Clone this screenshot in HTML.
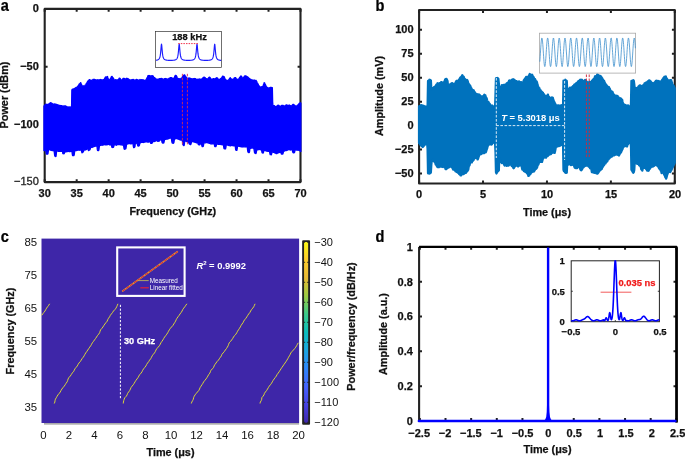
<!DOCTYPE html>
<html><head><meta charset="utf-8"><title>figure</title><style>html,body{margin:0;padding:0;background:#fff}</style></head><body>
<svg width="685" height="459" viewBox="0 0 685 459" style="font-family:'Liberation Sans',sans-serif;display:block;will-change:transform">
<rect width="685" height="459" fill="#fff"/>
<path d="M44.7 182.1v-2.9M44.7 8.9v2.9M76.68 182.1v-2.9M76.68 8.9v2.9M108.65 182.1v-2.9M108.65 8.9v2.9M140.62 182.1v-2.9M140.62 8.9v2.9M172.6 182.1v-2.9M172.6 8.9v2.9M204.57 182.1v-2.9M204.57 8.9v2.9M236.55 182.1v-2.9M236.55 8.9v2.9M268.52 182.1v-2.9M268.52 8.9v2.9M300.5 182.1v-2.9M300.5 8.9v2.9M44.7 8.9h2.9M300.5 8.9h-2.9M44.7 66.63h2.9M300.5 66.63h-2.9M44.7 124.37h2.9M300.5 124.37h-2.9M44.7 182.1h2.9M300.5 182.1h-2.9" stroke="#222" stroke-width="2" fill="none"/>
<rect x="44.7" y="8.9" width="255.8" height="173.2" fill="none" stroke="#222" stroke-width="2.1" stroke-linejoin="round"/>
<path d="M44 105.92 L44.3 105.63 L44.6 105.27 L44.9 105.08 L45.2 104.83 L45.5 104.78 L45.8 104.21 L46.1 104.28 L46.4 104.4 L46.7 104.6 L47 104.68 L47.3 104.5 L47.6 104.5 L47.9 104.39 L48.2 104.64 L48.5 104.29 L48.8 104.26 L49.1 103.8 L49.4 103.35 L49.7 103.3 L50 103.06 L50.3 102.71 L50.6 102.81 L50.9 103.02 L51.2 102.96 L51.5 103.05 L51.8 103.42 L52.1 103.59 L52.4 103.71 L52.7 103.94 L53 104.14 L53.3 104.28 L53.6 104.31 L53.9 104.43 L54.2 104.31 L54.5 103.99 L54.8 103.94 L55.1 104.16 L55.4 104.18 L55.7 104.28 L56 104.23 L56.3 104.48 L56.6 104.58 L56.9 104.65 L57.2 105 L57.5 105.12 L57.8 104.97 L58.1 104.95 L58.4 105.17 L58.7 105.26 L59 105.35 L59.3 105.72 L59.6 105.5 L59.9 105.58 L60.2 105.91 L60.5 105.57 L60.8 105.66 L61.1 105.69 L61.4 105.9 L61.7 105.82 L62 106.14 L62.3 106.19 L62.6 106.02 L62.9 106.41 L63.2 106.32 L63.5 106.38 L63.8 106.07 L64.1 106.18 L64.4 106.12 L64.7 105.89 L65 106.01 L65.3 106.04 L65.6 106.35 L65.9 106.1 L66.2 106.47 L66.5 106.58 L66.8 106.7 L67.1 106.81 L67.4 107.13 L67.7 106.93 L68 106.9 L68.3 107.49 L68.6 107.15 L68.9 107.07 L69.2 106.9 L69.5 107.11 L69.8 107.16 L70.1 107.68 L70.4 107.31 L70.7 107.02 L71 107.38 L71.3 107.68 L71.6 107.95 L71.9 89.69 L72.2 89.47 L72.5 89.12 L72.8 89.34 L73.1 89.28 L73.4 89.2 L73.7 88.95 L74 88.81 L74.3 88.82 L74.6 88.47 L74.9 88.25 L75.2 88.29 L75.5 88.15 L75.8 87.61 L76.1 87.52 L76.4 87.38 L76.7 87.57 L77 87.66 L77.3 87.18 L77.6 86.31 L77.9 86.12 L78.2 86.31 L78.5 85.54 L78.8 84.94 L79.1 84.34 L79.4 83.91 L79.7 83.69 L80 83.64 L80.3 83.22 L80.6 82.7 L80.9 83.2 L81.2 84.1 L81.5 84.56 L81.8 85.34 L82.1 85.63 L82.4 85.65 L82.7 85.92 L83 85.81 L83.3 86.01 L83.6 86.03 L83.9 86.36 L84.2 86.11 L84.5 86.14 L84.8 85.94 L85.1 85.39 L85.4 85.12 L85.7 84.73 L86 84.25 L86.3 83.7 L86.6 83.26 L86.9 82.77 L87.2 82.33 L87.5 81.68 L87.8 81.29 L88.1 80.91 L88.4 80.81 L88.7 80.56 L89 80.08 L89.3 79.59 L89.6 79.7 L89.9 79.91 L90.2 80.2 L90.5 80.54 L90.8 80.28 L91.1 80.26 L91.4 80.37 L91.7 80.46 L92 80.16 L92.3 80.18 L92.6 80 L92.9 79.49 L93.2 79.64 L93.5 79.5 L93.8 79.48 L94.1 79.35 L94.4 79.4 L94.7 79.53 L95 79.59 L95.3 79.91 L95.6 79.98 L95.9 80.06 L96.2 80.05 L96.5 80.08 L96.8 80.07 L97.1 79.98 L97.4 80.06 L97.7 79.83 L98 79.99 L98.3 79.97 L98.6 79.92 L98.9 80 L99.2 79.88 L99.5 79.96 L99.8 79.81 L100.1 79.87 L100.4 79.6 L100.7 79.93 L101 80.05 L101.3 79.9 L101.6 79.99 L101.9 79.7 L102.2 80.07 L102.5 79.98 L102.8 80.16 L103.1 79.99 L103.4 79.64 L103.7 79.68 L104 79.53 L104.3 79.41 L104.6 78.59 L104.9 78.29 L105.2 77.48 L105.5 77.04 L105.8 77.25 L106.1 77.3 L106.4 77 L106.7 77.05 L107 76.93 L107.3 76.61 L107.6 76.87 L107.9 77.93 L108.2 78.87 L108.5 79.28 L108.8 79.93 L109.1 79.92 L109.4 79.99 L109.7 80.06 L110 79.42 L110.3 78.9 L110.6 78.24 L110.9 77.87 L111.2 77.2 L111.5 76.76 L111.8 76.45 L112.1 76.51 L112.4 77.2 L112.7 77.34 L113 77.95 L113.3 78.35 L113.6 78.64 L113.9 79.24 L114.2 79.77 L114.5 79.84 L114.8 79.83 L115.1 80.07 L115.4 79.87 L115.7 79.75 L116 80.06 L116.3 80.02 L116.6 79.88 L116.9 80.06 L117.2 80.19 L117.5 79.86 L117.8 79.82 L118.1 79.81 L118.4 79.47 L118.7 79.14 L119 78.65 L119.3 78.26 L119.6 78.18 L119.9 78.5 L120.2 78.64 L120.5 79.07 L120.8 79.66 L121.1 79.99 L121.4 80.26 L121.7 80.5 L122 79.9 L122.3 79.61 L122.6 79.37 L122.9 78.73 L123.2 78.46 L123.5 78.35 L123.8 78.34 L124.1 78.44 L124.4 78.89 L124.7 78.82 L125 78.93 L125.3 79.23 L125.6 79.06 L125.9 78.84 L126.2 78.77 L126.5 78.47 L126.8 78.26 L127.1 78.57 L127.4 78.63 L127.7 78.68 L128 78.82 L128.3 78.86 L128.6 79.03 L128.9 79.48 L129.2 79.83 L129.5 79.82 L129.8 80.02 L130.1 80.02 L130.4 80.05 L130.7 80.16 L131 80.33 L131.3 79.85 L131.6 80.01 L131.9 79.96 L132.2 79.65 L132.5 79.68 L132.8 79.56 L133.1 79.68 L133.4 79.45 L133.7 79.74 L134 80.09 L134.3 79.96 L134.6 80.25 L134.9 80.23 L135.2 80.3 L135.5 79.98 L135.8 79.97 L136.1 79.97 L136.4 79.38 L136.7 79.82 L137 79.65 L137.3 79.71 L137.6 80.13 L137.9 80.28 L138.2 80.31 L138.5 80.22 L138.8 80.21 L139.1 80.07 L139.4 80.19 L139.7 80.03 L140 79.59 L140.3 80.12 L140.6 80.45 L140.9 80 L141.2 79.97 L141.5 79.69 L141.8 79.76 L142.1 79.84 L142.4 80.1 L142.7 79.82 L143 79.74 L143.3 80.2 L143.6 80.2 L143.9 80.38 L144.2 80.47 L144.5 80.57 L144.8 80.19 L145.1 80.21 L145.4 80.05 L145.7 79.94 L146 79.7 L146.3 79.37 L146.6 78.8 L146.9 77.91 L147.2 77.64 L147.5 76.94 L147.8 76.19 L148.1 75.64 L148.4 75.68 L148.7 75.82 L149 75.52 L149.3 75.91 L149.6 75.82 L149.9 75.97 L150.2 76.28 L150.5 76.33 L150.8 76.06 L151.1 75.65 L151.4 76.11 L151.7 76.14 L152 76.19 L152.3 75.91 L152.6 75.77 L152.9 75.77 L153.2 76.42 L153.5 77.02 L153.8 77.25 L154.1 77.55 L154.4 77.6 L154.7 77.9 L155 78.09 L155.3 78.66 L155.6 78.86 L155.9 79.01 L156.2 78.98 L156.5 79.27 L156.8 79.33 L157.1 79.46 L157.4 79.54 L157.7 79.33 L158 79.12 L158.3 79.22 L158.6 79.34 L158.9 79.15 L159.2 78.95 L159.5 78.69 L159.8 78.6 L160.1 78.92 L160.4 78.66 L160.7 78.69 L161 78.55 L161.3 78.51 L161.6 78.62 L161.9 78.76 L162.2 79 L162.5 78.79 L162.8 79.22 L163.1 79.2 L163.4 79.15 L163.7 79.15 L164 79.18 L164.3 78.99 L164.6 78.72 L164.9 78.61 L165.2 78.65 L165.5 78.57 L165.8 78.59 L166.1 78.72 L166.4 78.9 L166.7 79.21 L167 79.3 L167.3 79.31 L167.6 79.11 L167.9 79.06 L168.2 79.28 L168.5 79.05 L168.8 78.65 L169.1 78.43 L169.4 78.1 L169.7 78.12 L170 77.99 L170.3 77.82 L170.6 77.67 L170.9 77.63 L171.2 77.59 L171.5 77.7 L171.8 78.25 L172.1 77.98 L172.4 78.47 L172.7 78.56 L173 78.46 L173.3 78.42 L173.6 78.38 L173.9 78.31 L174.2 77.76 L174.5 77.44 L174.8 76.54 L175.1 75.81 L175.4 75.38 L175.7 75.38 L176 75.52 L176.3 75.72 L176.6 76.27 L176.9 77.14 L177.2 77.85 L177.5 78.32 L177.8 78.42 L178.1 78.43 L178.4 78.68 L178.7 78.72 L179 78.88 L179.3 78.98 L179.6 78.81 L179.9 78.85 L180.2 79.04 L180.5 78.65 L180.8 78.64 L181.1 78.43 L181.4 78.5 L181.7 78.13 L182 77.83 L182.3 77.45 L182.6 76.5 L182.9 76.39 L183.2 76.1 L183.5 75.64 L183.8 75.13 L184.1 75.14 L184.4 74.88 L184.7 75.07 L185 75.68 L185.3 76.03 L185.6 76.35 L185.9 77.19 L186.2 77.4 L186.5 77.76 L186.8 78.53 L187.1 78.45 L187.4 78.56 L187.7 78.57 L188 78.32 L188.3 78.22 L188.6 78.33 L188.9 78.38 L189.2 78.04 L189.5 78.41 L189.8 78.15 L190.1 78.28 L190.4 78.52 L190.7 78.5 L191 78.85 L191.3 78.85 L191.6 78.98 L191.9 78.63 L192.2 78.94 L192.5 79.02 L192.8 79.07 L193.1 79.17 L193.4 78.83 L193.7 78.65 L194 78.6 L194.3 78.86 L194.6 78.74 L194.9 78.52 L195.2 78.7 L195.5 78.79 L195.8 78.99 L196.1 79.33 L196.4 79.43 L196.7 79.36 L197 79.4 L197.3 79.53 L197.6 79.55 L197.9 79.24 L198.2 79.45 L198.5 79.18 L198.8 79.21 L199.1 79.02 L199.4 79.05 L199.7 79.27 L200 79.32 L200.3 79.66 L200.6 79.19 L200.9 79.18 L201.2 79.11 L201.5 79.12 L201.8 79.11 L202.1 78.8 L202.4 78.43 L202.7 78.13 L203 77.94 L203.3 77.64 L203.6 77.34 L203.9 77.4 L204.2 77.23 L204.5 77.36 L204.8 77.72 L205.1 77.7 L205.4 78.06 L205.7 78.53 L206 78.71 L206.3 78.75 L206.6 78.97 L206.9 79.08 L207.2 78.99 L207.5 79.01 L207.8 78.74 L208.1 78.46 L208.4 78.14 L208.7 77.85 L209 77.59 L209.3 77.25 L209.6 77.12 L209.9 77.44 L210.2 78.03 L210.5 78.43 L210.8 78.97 L211.1 79.38 L211.4 79.19 L211.7 79.28 L212 79.51 L212.3 79.43 L212.6 79.15 L212.9 78.91 L213.2 78.74 L213.5 78.62 L213.8 78.68 L214.1 78.79 L214.4 78.91 L214.7 78.86 L215 79.02 L215.3 78.94 L215.6 78.58 L215.9 78.27 L216.2 78.06 L216.5 78.07 L216.8 77.69 L217.1 78.13 L217.4 78.32 L217.7 78.28 L218 78.89 L218.3 79.43 L218.6 79.65 L218.9 79.81 L219.2 79.78 L219.5 79.65 L219.8 79.31 L220.1 79.69 L220.4 79.24 L220.7 78.49 L221 78.5 L221.3 78.4 L221.6 78.13 L221.9 77.6 L222.2 77.14 L222.5 76.25 L222.8 76.25 L223.1 76.92 L223.4 76.66 L223.7 76.38 L224 76.7 L224.3 77.01 L224.6 77.92 L224.9 78.88 L225.2 79.12 L225.5 79.49 L225.8 79.94 L226.1 79.99 L226.4 80.27 L226.7 80.59 L227 80.41 L227.3 80.35 L227.6 80.7 L227.9 80.55 L228.2 80.27 L228.5 79.94 L228.8 79.7 L229.1 79.28 L229.4 79 L229.7 78.38 L230 78.07 L230.3 77.8 L230.6 78.48 L230.9 78.82 L231.2 78.86 L231.5 79.14 L231.8 79.4 L232.1 79.38 L232.4 79.38 L232.7 79.48 L233 79.19 L233.3 79.23 L233.6 78.92 L233.9 78.67 L234.2 78.07 L234.5 78.06 L234.8 77.82 L235.1 77.67 L235.4 77.66 L235.7 77.86 L236 78.6 L236.3 78.82 L236.6 79.25 L236.9 79.66 L237.2 79.52 L237.5 79.45 L237.8 79.31 L238.1 79.2 L238.4 79.12 L238.7 79.06 L239 78.91 L239.3 78.24 L239.6 77.71 L239.9 77.12 L240.2 77.01 L240.5 76.75 L240.8 76.04 L241.1 76.26 L241.4 76.12 L241.7 76.74 L242 77.78 L242.3 78.37 L242.6 78.24 L242.9 78.36 L243.2 78.23 L243.5 77.86 L243.8 77.48 L244.1 76.95 L244.4 76.31 L244.7 76.04 L245 75.91 L245.3 75.83 L245.6 75.86 L245.9 75.93 L246.2 76.33 L246.5 76.55 L246.8 76.51 L247.1 76.95 L247.4 77.09 L247.7 76.91 L248 77.5 L248.3 77.93 L248.6 78.16 L248.9 78.16 L249.2 78.64 L249.5 78.54 L249.8 78.81 L250.1 79.46 L250.4 79.48 L250.7 79.37 L251 79.55 L251.3 79.74 L251.6 79.91 L251.9 80.18 L252.2 80.18 L252.5 79.95 L252.8 80.28 L253.1 80.32 L253.4 80.24 L253.7 80.57 L254 80.44 L254.3 80.13 L254.6 80.29 L254.9 80.32 L255.2 80.42 L255.5 80.96 L255.8 81.53 L256.1 80.54 L256.4 81.01 L256.7 81.65 L257 82.28 L257.3 82.87 L257.6 83.41 L257.9 84.05 L258.2 84.35 L258.5 85.07 L258.8 85.73 L259.1 86.16 L259.4 86.12 L259.7 86.68 L260 87.24 L260.3 87.44 L260.6 87.4 L260.9 87.23 L261.2 87.11 L261.5 86.83 L261.8 87.15 L262.1 86.97 L262.4 86.63 L262.7 86.28 L263 86.12 L263.3 85.48 L263.6 84.32 L263.9 83.79 L264.2 82.79 L264.5 82.85 L264.8 83.47 L265.1 84.01 L265.4 84.69 L265.7 85.34 L266 86.17 L266.3 86.48 L266.6 86.76 L266.9 87.23 L267.2 87.63 L267.5 87.98 L267.8 87.78 L268.1 87.86 L268.4 88.06 L268.7 88.14 L269 88.24 L269.3 87.99 L269.6 87.78 L269.9 87.81 L270.2 87.55 L270.5 87.79 L270.8 87.46 L271.1 87.34 L271.4 87.56 L271.7 87.72 L272 87.85 L272.3 87.77 L272.6 101.74 L272.9 106.07 L273.2 106.23 L273.5 106.01 L273.8 105.9 L274.1 105.67 L274.4 105.66 L274.7 106.05 L275 106.57 L275.3 106.93 L275.6 106.85 L275.9 106.97 L276.2 106.53 L276.5 106.51 L276.8 106.39 L277.1 105.98 L277.4 105.89 L277.7 105.52 L278 105.16 L278.3 105.57 L278.6 105.62 L278.9 105.55 L279.2 105.9 L279.5 106.35 L279.8 106.21 L280.1 106.18 L280.4 106.39 L280.7 106.17 L281 106.16 L281.3 106.01 L281.6 105.52 L281.9 105.43 L282.2 105.35 L282.5 105.48 L282.8 105.38 L283.1 105.5 L283.4 105.79 L283.7 106.03 L284 105.98 L284.3 106.03 L284.6 106.06 L284.9 106.28 L285.2 106.36 L285.5 105.81 L285.8 105.36 L286.1 105.05 L286.4 105.06 L286.7 104.99 L287 105.32 L287.3 105.12 L287.6 105.44 L287.9 105.62 L288.2 105.9 L288.5 105.78 L288.8 105.23 L289.1 105.03 L289.4 105.35 L289.7 105.62 L290 105.56 L290.3 105.78 L290.6 105.71 L290.9 105.92 L291.2 106.21 L291.5 106.17 L291.8 105.7 L292.1 105.32 L292.4 104.95 L292.7 104.63 L293 104.54 L293.3 104.45 L293.6 104.55 L293.9 104.62 L294.2 105.04 L294.5 105.24 L294.8 105.65 L295.1 106.01 L295.4 105.92 L295.7 105.9 L296 106.02 L296.3 106.23 L296.6 105.88 L296.9 105.9 L297.2 105.74 L297.5 105.2 L297.8 105.28 L298.1 105.17 L298.4 104.65 L298.7 104.22 L299 103.71 L299.3 103.28 L299.6 103.08 L299.9 103.18 L300.2 102.92 L300.5 102.88 L300.8 103.07 L300.8 151.49 L300.5 151.16 L300.2 150.99 L299.9 150.75 L299.6 150.42 L299.3 150.36 L299 150.36 L298.7 150.05 L298.4 150.11 L298.1 150.2 L297.8 149.92 L297.5 149.92 L297.2 150.07 L296.9 149.98 L296.6 149.98 L296.3 149.98 L296 149.76 L295.7 149.65 L295.4 149.77 L295.1 149.98 L294.8 151.09 L294.5 152.29 L294.2 152.69 L293.9 152.83 L293.6 152.84 L293.3 152.68 L293 152.55 L292.7 151.76 L292.4 150.26 L292.1 149.76 L291.8 149.5 L291.5 149.51 L291.2 149.65 L290.9 149.9 L290.6 149.96 L290.3 149.89 L290 149.78 L289.7 149.27 L289.4 149.37 L289.1 149.45 L288.8 149.47 L288.5 149.45 L288.2 149.62 L287.9 149.84 L287.6 149.96 L287.3 150.15 L287 150.27 L286.7 150.38 L286.4 150.45 L286.1 150.44 L285.8 150.38 L285.5 150.46 L285.2 150.58 L284.9 150.73 L284.6 150.92 L284.3 151.13 L284 151.04 L283.7 151.16 L283.4 151.59 L283.1 153 L282.8 153.95 L282.5 154.07 L282.2 154.04 L281.9 153.96 L281.6 154.11 L281.3 153.74 L281 152.53 L280.7 151.97 L280.4 151.95 L280.1 152.22 L279.8 152.39 L279.5 152.3 L279.2 152.39 L278.9 152.57 L278.6 152.34 L278.3 152.73 L278 152.85 L277.7 152.95 L277.4 152.88 L277.1 153.35 L276.8 153.5 L276.5 153.44 L276.2 153.55 L275.9 153.17 L275.6 153.09 L275.3 152.9 L275 152.96 L274.7 152.82 L274.4 152.45 L274.1 152.3 L273.8 152.24 L273.5 152.29 L273.2 152.11 L272.9 152.17 L272.6 151.89 L272.3 151.79 L272 151.81 L271.7 153.37 L271.4 154.71 L271.1 154.8 L270.8 154.59 L270.5 154.57 L270.2 154.55 L269.9 153.34 L269.6 151.66 L269.3 151.24 L269 151.3 L268.7 151.11 L268.4 151.34 L268.1 151.15 L267.8 151.16 L267.5 151.18 L267.2 151.12 L266.9 151.13 L266.6 151.03 L266.3 150.88 L266 150.82 L265.7 150.79 L265.4 150.59 L265.1 150.5 L264.8 150.44 L264.5 150.31 L264.2 150.25 L263.9 150.3 L263.6 151.56 L263.3 152.8 L263 153 L262.7 152.87 L262.4 152.89 L262.1 152.61 L261.8 151.05 L261.5 150.4 L261.2 149.89 L260.9 149.75 L260.6 149.59 L260.3 149.46 L260 149.46 L259.7 149.35 L259.4 149.48 L259.1 149.31 L258.8 149.57 L258.5 149.61 L258.2 149.68 L257.9 149.75 L257.6 149.6 L257.3 149.7 L257 149.65 L256.7 149.92 L256.4 151.59 L256.1 153.05 L255.8 153.51 L255.5 153.44 L255.2 153.26 L254.9 153.08 L254.6 152.71 L254.3 150.81 L254 148.81 L253.7 148.45 L253.4 148.02 L253.1 147.89 L252.8 148.12 L252.5 148 L252.2 147.82 L251.9 147.92 L251.6 147.99 L251.3 148.04 L251 148.2 L250.7 148.26 L250.4 148.03 L250.1 147.99 L249.8 148.86 L249.5 151.69 L249.2 152.58 L248.9 152.61 L248.6 152.36 L248.3 152.27 L248 152 L247.7 150.64 L247.4 147.59 L247.1 146.77 L246.8 146.71 L246.5 146.75 L246.2 146.85 L245.9 146.95 L245.6 146.82 L245.3 146.51 L245 146.62 L244.7 146.83 L244.4 146.86 L244.1 146.85 L243.8 146.79 L243.5 146.72 L243.2 146.71 L242.9 146.79 L242.6 146.93 L242.3 146.81 L242 146.82 L241.7 146.72 L241.4 146.88 L241.1 146.71 L240.8 146.66 L240.5 146.55 L240.2 146.2 L239.9 146.53 L239.6 146.32 L239.3 146.3 L239 146.07 L238.7 146.08 L238.4 146.26 L238.1 146.09 L237.8 146.02 L237.5 145.86 L237.2 148.44 L236.9 150.13 L236.6 150.41 L236.3 150.36 L236 150.22 L235.7 149.68 L235.4 146.93 L235.1 145.65 L234.8 145.76 L234.5 145.89 L234.2 145.65 L233.9 145.67 L233.6 145.8 L233.3 145.67 L233 145.33 L232.7 145.52 L232.4 145.36 L232.1 145.38 L231.8 145.48 L231.5 145.42 L231.2 145.34 L230.9 145.52 L230.6 145.77 L230.3 145.7 L230 145.69 L229.7 145.51 L229.4 145.59 L229.1 145.57 L228.8 145.4 L228.5 145.14 L228.2 145.21 L227.9 144.94 L227.6 144.96 L227.3 145.05 L227 144.81 L226.7 144.71 L226.4 144.74 L226.1 145.54 L225.8 147.56 L225.5 148.89 L225.2 148.9 L224.9 148.75 L224.6 148.59 L224.3 148.69 L224 148.43 L223.7 146.42 L223.4 144.28 L223.1 144.23 L222.8 144.48 L222.5 144.33 L222.2 144.7 L221.9 144.43 L221.6 144.31 L221.3 144.17 L221 144.41 L220.7 144.17 L220.4 144.07 L220.1 144.3 L219.8 144.23 L219.5 144.29 L219.2 144.17 L218.9 144.27 L218.6 144.23 L218.3 144.29 L218 144.19 L217.7 144.17 L217.4 143.95 L217.1 143.8 L216.8 143.83 L216.5 143.94 L216.2 145.84 L215.9 146.61 L215.6 146.67 L215.3 146.58 L215 146.58 L214.7 146.21 L214.4 144.31 L214.1 143.74 L213.8 143.66 L213.5 143.79 L213.2 143.81 L212.9 143.74 L212.6 143.89 L212.3 143.86 L212 143.78 L211.7 143.93 L211.4 143.88 L211.1 143.85 L210.8 143.84 L210.5 143.78 L210.2 143.48 L209.9 143.43 L209.6 143.33 L209.3 143.29 L209 143.2 L208.7 143.05 L208.4 142.86 L208.1 142.73 L207.8 142.8 L207.5 142.62 L207.2 142.51 L206.9 142.44 L206.6 142.48 L206.3 142.51 L206 142.54 L205.7 142.8 L205.4 142.82 L205.1 142.86 L204.8 142.84 L204.5 142.92 L204.2 142.96 L203.9 143.08 L203.6 144.36 L203.3 146.21 L203 146.43 L202.7 146.43 L202.4 146.63 L202.1 146.4 L201.8 145.21 L201.5 143.39 L201.2 143.31 L200.9 142.95 L200.6 142.84 L200.3 143.45 L200 144.54 L199.7 144.9 L199.4 144.74 L199.1 144.74 L198.8 144.66 L198.5 144.58 L198.2 144.11 L197.9 142.8 L197.6 142.6 L197.3 142.71 L197 142.77 L196.7 142.78 L196.4 142.71 L196.1 142.63 L195.8 142.43 L195.5 142.33 L195.2 142.25 L194.9 142.1 L194.6 142.15 L194.3 142.12 L194 141.92 L193.7 141.88 L193.4 141.69 L193.1 141.52 L192.8 141.57 L192.5 141.59 L192.2 141.64 L191.9 141.66 L191.6 141.88 L191.3 142.7 L191 143.9 L190.7 144.48 L190.4 144.55 L190.1 144.44 L189.8 144.12 L189.5 143.88 L189.2 143.71 L188.9 142.98 L188.6 142.06 L188.3 141.76 L188 141.74 L187.7 141.62 L187.4 141.71 L187.1 141.67 L186.8 141.58 L186.5 141.17 L186.2 141 L185.9 141.12 L185.6 141.04 L185.3 141.18 L185 140.92 L184.7 141.06 L184.4 143.32 L184.1 145.4 L183.8 145.54 L183.5 145.22 L183.2 144.93 L182.9 144.43 L182.6 142.05 L182.3 140.18 L182 140.12 L181.7 139.94 L181.4 139.91 L181.1 139.95 L180.8 140.01 L180.5 140.04 L180.2 139.81 L179.9 139.72 L179.6 139.51 L179.3 139.51 L179 139.3 L178.7 139.31 L178.4 139.08 L178.1 139 L177.8 138.69 L177.5 138.65 L177.2 138.69 L176.9 138.55 L176.6 138.54 L176.3 138.26 L176 138.47 L175.7 138.32 L175.4 138.73 L175.1 138.85 L174.8 138.65 L174.5 138.87 L174.2 140.34 L173.9 142.41 L173.6 143.06 L173.3 143.25 L173 143.11 L172.7 143.07 L172.4 143.09 L172.1 142.61 L171.8 141.08 L171.5 138.95 L171.2 138.21 L170.9 137.97 L170.6 138.11 L170.3 138.12 L170 137.94 L169.7 137.98 L169.4 138.22 L169.1 138.28 L168.8 138.61 L168.5 138.66 L168.2 138.77 L167.9 138.82 L167.6 138.98 L167.3 139.06 L167 138.95 L166.7 139 L166.4 139.01 L166.1 139.21 L165.8 139.2 L165.5 139.02 L165.2 139.19 L164.9 139.24 L164.6 139.58 L164.3 140.43 L164 142.08 L163.7 142.91 L163.4 142.96 L163.1 143.04 L162.8 142.9 L162.5 142.97 L162.2 142.52 L161.9 141.3 L161.6 139.7 L161.3 139.35 L161 139.5 L160.7 139.78 L160.4 139.79 L160.1 139.98 L159.8 140.31 L159.5 140.68 L159.2 141.03 L158.9 141.17 L158.6 141.16 L158.3 141.18 L158 141.36 L157.7 141.14 L157.4 140.89 L157.1 140.79 L156.8 140.76 L156.5 140.59 L156.2 140.6 L155.9 140.72 L155.6 140.87 L155.3 140.92 L155 141.34 L154.7 141.18 L154.4 141.11 L154.1 141.45 L153.8 141.48 L153.5 141.5 L153.2 141.4 L152.9 141.47 L152.6 141.3 L152.3 142.64 L152 143.15 L151.7 143 L151.4 143.24 L151.1 143.24 L150.8 143.25 L150.5 142.18 L150.2 141.5 L149.9 141.6 L149.6 141.73 L149.3 141.9 L149 141.95 L148.7 141.66 L148.4 141.69 L148.1 142.04 L147.8 142.13 L147.5 141.86 L147.2 141.9 L146.9 141.65 L146.6 141.5 L146.3 141.7 L146 141.67 L145.7 141.7 L145.4 141.76 L145.1 142.03 L144.8 142.07 L144.5 142.14 L144.2 142.14 L143.9 142.25 L143.6 142.33 L143.3 142.49 L143 142.42 L142.7 142.41 L142.4 142.35 L142.1 142.35 L141.8 142.38 L141.5 142.35 L141.2 142.34 L140.9 142.42 L140.6 142.7 L140.3 142.74 L140 142.92 L139.7 143.53 L139.4 145.13 L139.1 145.73 L138.8 145.96 L138.5 145.99 L138.2 145.9 L137.9 145.88 L137.6 145.08 L137.3 143.86 L137 143.3 L136.7 143.33 L136.4 142.96 L136.1 142.78 L135.8 142.77 L135.5 142.71 L135.2 143.97 L134.9 146.66 L134.6 147.1 L134.3 147.29 L134 147.59 L133.7 147.61 L133.4 146.33 L133.1 143.81 L132.8 143.23 L132.5 143.46 L132.2 143.59 L131.9 143.47 L131.6 143.48 L131.3 143.75 L131 143.76 L130.7 143.79 L130.4 143.75 L130.1 143.47 L129.8 143.5 L129.5 143.55 L129.2 143.49 L128.9 143.37 L128.6 143.56 L128.3 143.64 L128 143.78 L127.7 143.89 L127.4 143.99 L127.1 143.91 L126.8 143.8 L126.5 144.2 L126.2 146.61 L125.9 148.43 L125.6 148.85 L125.3 148.98 L125 148.88 L124.7 149.07 L124.4 149.27 L124.1 148.73 L123.8 146.57 L123.5 144.65 L123.2 144.57 L122.9 144.75 L122.6 145 L122.3 145.02 L122 144.85 L121.7 144.7 L121.4 144.62 L121.1 144.73 L120.8 144.82 L120.5 144.62 L120.2 144.52 L119.9 144.43 L119.6 144.44 L119.3 144.54 L119 144.58 L118.7 144.38 L118.4 144.34 L118.1 144.46 L117.8 144.5 L117.5 144.56 L117.2 144.66 L116.9 144.8 L116.6 144.96 L116.3 145.18 L116 144.94 L115.7 144.84 L115.4 144.89 L115.1 144.78 L114.8 144.75 L114.5 144.45 L114.2 144.45 L113.9 145.48 L113.6 146.82 L113.3 147.18 L113 147.16 L112.7 147.24 L112.4 147.45 L112.1 147.4 L111.8 146.64 L111.5 145.4 L111.2 145.04 L110.9 144.97 L110.6 144.81 L110.3 144.88 L110 144.63 L109.7 144.76 L109.4 144.7 L109.1 144.39 L108.8 144.24 L108.5 144.2 L108.2 144.28 L107.9 144.24 L107.6 144.7 L107.3 144.56 L107 144.57 L106.7 144.73 L106.4 144.75 L106.1 144.78 L105.8 144.8 L105.5 144.84 L105.2 144.43 L104.9 144.64 L104.6 144.49 L104.3 144.67 L104 144.77 L103.7 144.76 L103.4 144.8 L103.1 144.85 L102.8 145.06 L102.5 145.08 L102.2 145.25 L101.9 144.92 L101.6 144.83 L101.3 144.88 L101 145.12 L100.7 145.28 L100.4 145.35 L100.1 145.37 L99.8 145.48 L99.5 145.85 L99.2 147.14 L98.9 149.77 L98.6 150.61 L98.3 150.48 L98 150.6 L97.7 150.46 L97.4 149.68 L97.1 146.85 L96.8 145.81 L96.5 145.94 L96.2 145.7 L95.9 145.96 L95.6 145.92 L95.3 145.99 L95 146.11 L94.7 146.35 L94.4 146.31 L94.1 146.49 L93.8 146.59 L93.5 146.76 L93.2 146.82 L92.9 146.99 L92.6 147.05 L92.3 147.24 L92 147.43 L91.7 147.23 L91.4 147.4 L91.1 147.1 L90.8 147.24 L90.5 147.71 L90.2 149.02 L89.9 149.6 L89.6 149.81 L89.3 150.03 L89 150.18 L88.7 150.52 L88.4 150.26 L88.1 149.5 L87.8 148.64 L87.5 148.49 L87.2 148.69 L86.9 148.97 L86.6 149.16 L86.3 149.45 L86 149.67 L85.7 149.8 L85.4 149.8 L85.1 149.98 L84.8 149.59 L84.5 149.5 L84.2 149.51 L83.9 149.6 L83.6 151.07 L83.3 151.83 L83 152.03 L82.7 152.16 L82.4 152.59 L82.1 152.77 L81.8 152.21 L81.5 150.84 L81.2 149.92 L80.9 150.08 L80.6 150.11 L80.3 150.06 L80 149.98 L79.7 149.88 L79.4 150.15 L79.1 150.2 L78.8 150.04 L78.5 150.06 L78.2 150.03 L77.9 150.1 L77.6 150.15 L77.3 150.24 L77 150.32 L76.7 150.37 L76.4 150.52 L76.1 150.58 L75.8 150.67 L75.5 150.66 L75.2 150.76 L74.9 150.87 L74.6 151.46 L74.3 154.03 L74 155.35 L73.7 155.52 L73.4 155.55 L73.1 155.67 L72.8 155.57 L72.5 155.06 L72.2 153.23 L71.9 150.97 L71.6 150.81 L71.3 150.96 L71 151.2 L70.7 151.27 L70.4 151.51 L70.1 151.46 L69.8 151.37 L69.5 151.58 L69.2 151.59 L68.9 151.43 L68.6 151.18 L68.3 151.16 L68 150.98 L67.7 151.39 L67.4 151.51 L67.1 151.5 L66.8 151.56 L66.5 151.69 L66.2 151.78 L65.9 151.84 L65.6 151.92 L65.3 151.44 L65 151.62 L64.7 151.41 L64.4 152.81 L64.1 153.65 L63.8 153.72 L63.5 153.65 L63.2 153.66 L62.9 153.52 L62.6 151.65 L62.3 151.39 L62 151.21 L61.7 151.21 L61.4 151.24 L61.1 151.18 L60.8 151.24 L60.5 151.16 L60.2 151.26 L59.9 151.2 L59.6 151.42 L59.3 151.39 L59 151.31 L58.7 151.36 L58.4 151.13 L58.1 151.12 L57.8 151.08 L57.5 151.03 L57.2 150.86 L56.9 150.67 L56.6 150.77 L56.3 153.74 L56 156.18 L55.7 156.49 L55.4 156.25 L55.1 156.16 L54.8 156.02 L54.5 153.63 L54.2 151.23 L53.9 150.94 L53.6 150.57 L53.3 150.26 L53 150.6 L52.7 150.6 L52.4 150.52 L52.1 150.5 L51.8 150.39 L51.5 150.28 L51.2 150.07 L50.9 150.29 L50.6 149.84 L50.3 149.62 L50 149.48 L49.7 149.58 L49.4 149.76 L49.1 149.46 L48.8 149.58 L48.5 149.61 L48.2 151.61 L47.9 153.56 L47.6 154.03 L47.3 154.04 L47 153.77 L46.7 154.03 L46.4 153.95 L46.1 152.29 L45.8 150.6 L45.5 150.44 L45.2 150.4 L44.9 150.38 L44.6 150.45 L44.3 150.59 L44 150.6Z" fill="#0000ff" stroke="#0000ff" stroke-width="1.4" stroke-linejoin="round"/>
<path d="M182.4 73.8V145.3M187.4 73.8V145.3" stroke="#d82c50" stroke-width="0.9" stroke-dasharray="2.5 1.5" fill="none"/>
<text x="44.7" y="197.2" font-size="11.0" font-weight="bold" text-anchor="middle" fill="#111"  stroke="#111" stroke-width="0.25">30</text>
<text x="76.68" y="197.2" font-size="11.0" font-weight="bold" text-anchor="middle" fill="#111"  stroke="#111" stroke-width="0.25">35</text>
<text x="108.65" y="197.2" font-size="11.0" font-weight="bold" text-anchor="middle" fill="#111"  stroke="#111" stroke-width="0.25">40</text>
<text x="140.62" y="197.2" font-size="11.0" font-weight="bold" text-anchor="middle" fill="#111"  stroke="#111" stroke-width="0.25">45</text>
<text x="172.6" y="197.2" font-size="11.0" font-weight="bold" text-anchor="middle" fill="#111"  stroke="#111" stroke-width="0.25">50</text>
<text x="204.57" y="197.2" font-size="11.0" font-weight="bold" text-anchor="middle" fill="#111"  stroke="#111" stroke-width="0.25">55</text>
<text x="236.55" y="197.2" font-size="11.0" font-weight="bold" text-anchor="middle" fill="#111"  stroke="#111" stroke-width="0.25">60</text>
<text x="268.52" y="197.2" font-size="11.0" font-weight="bold" text-anchor="middle" fill="#111"  stroke="#111" stroke-width="0.25">65</text>
<text x="300.5" y="197.2" font-size="11.0" font-weight="bold" text-anchor="middle" fill="#111"  stroke="#111" stroke-width="0.25">70</text>
<text x="38.8" y="12.45" font-size="11.0" font-weight="bold" text-anchor="end" fill="#111"  stroke="#111" stroke-width="0.25">0</text>
<text x="38.8" y="70.18" font-size="11.0" font-weight="bold" text-anchor="end" fill="#111"  stroke="#111" stroke-width="0.25">−50</text>
<text x="38.8" y="127.92" font-size="11.0" font-weight="bold" text-anchor="end" fill="#111"  stroke="#111" stroke-width="0.25">−100</text>
<text x="38.8" y="184.7" font-size="11.0" font-weight="normal" text-anchor="end" fill="#2a2a2a" stroke="#2a2a2a" stroke-width="0.35">−150</text>
<text x="172.8" y="214.7" font-size="10.85" font-weight="bold" text-anchor="middle" fill="#111"  stroke="#111" stroke-width="0.25">Frequency (GHz)</text>
<text transform="translate(8.1 95) rotate(-90)" font-size="10.85" font-weight="bold" text-anchor="middle" fill="#111" stroke="#111" stroke-width="0.25">Power (dBm)</text>
<text transform="translate(0.7 11.45) scale(0.9 1)" font-size="16.2" font-weight="bold" fill="#000" stroke="#000" stroke-width="0.25">a</text>
<rect x="155.5" y="31.4" width="66" height="36" fill="#fff" stroke="#333" stroke-width="0.7"/>
<path d="M156 60.28 L156.25 60.24 L156.5 60.2 L156.75 60.15 L157 60.1 L157.25 60.03 L157.5 59.95 L157.75 59.86 L158 59.74 L158.25 59.6 L158.5 59.43 L158.75 59.22 L159 58.95 L159.25 58.6 L159.5 58.13 L159.75 57.5 L160 56.64 L160.25 55.43 L160.5 53.73 L160.75 51.37 L161 48.38 L161.25 45.45 L161.5 44.13 L161.75 45.45 L162 48.38 L162.25 51.36 L162.5 53.72 L162.75 55.42 L163 56.63 L163.25 57.49 L163.5 58.11 L163.75 58.57 L164 58.92 L164.25 59.19 L164.5 59.4 L164.75 59.57 L165 59.7 L165.25 59.82 L165.5 59.91 L165.75 59.98 L166 60.05 L166.25 60.1 L166.5 60.14 L166.75 60.18 L167 60.22 L167.25 60.24 L167.5 60.27 L167.75 60.29 L168 60.31 L168.25 60.32 L168.5 60.34 L168.75 60.35 L169 60.36 L169.25 60.36 L169.5 60.37 L169.75 60.37 L170 60.37 L170.25 60.38 L170.5 60.37 L170.75 60.37 L171 60.37 L171.25 60.36 L171.5 60.36 L171.75 60.35 L172 60.34 L172.25 60.33 L172.5 60.31 L172.75 60.3 L173 60.28 L173.25 60.26 L173.5 60.23 L173.75 60.2 L174 60.16 L174.25 60.12 L174.5 60.08 L174.75 60.02 L175 59.95 L175.25 59.87 L175.5 59.78 L175.75 59.66 L176 59.52 L176.25 59.34 L176.5 59.12 L176.75 58.84 L177 58.47 L177.25 57.98 L177.5 57.31 L177.75 56.39 L178 55.1 L178.25 53.27 L178.5 50.77 L178.75 47.72 L179 44.97 L179.25 44.16 L179.5 45.93 L179.75 48.97 L180 51.86 L180.25 54.08 L180.5 55.67 L180.75 56.79 L181 57.6 L181.25 58.19 L181.5 58.63 L181.75 58.96 L182 59.21 L182.25 59.42 L182.5 59.58 L182.75 59.71 L183 59.81 L183.25 59.9 L183.5 59.98 L183.75 60.04 L184 60.09 L184.25 60.14 L184.5 60.17 L184.75 60.21 L185 60.24 L185.25 60.26 L185.5 60.28 L185.75 60.3 L186 60.31 L186.25 60.33 L186.5 60.34 L186.75 60.35 L187 60.35 L187.25 60.36 L187.5 60.36 L187.75 60.37 L188 60.37 L188.25 60.37 L188.5 60.37 L188.75 60.36 L189 60.36 L189.25 60.35 L189.5 60.34 L189.75 60.34 L190 60.32 L190.25 60.31 L190.5 60.29 L190.75 60.28 L191 60.25 L191.25 60.23 L191.5 60.2 L191.75 60.17 L192 60.13 L192.25 60.08 L192.5 60.03 L192.75 59.96 L193 59.89 L193.25 59.8 L193.5 59.68 L193.75 59.55 L194 59.38 L194.25 59.17 L194.5 58.9 L194.75 58.55 L195 58.08 L195.25 57.46 L195.5 56.6 L195.75 55.39 L196 53.69 L196.25 51.33 L196.5 48.35 L196.75 45.41 L197 44.1 L197.25 45.41 L197.5 48.35 L197.75 51.33 L198 53.69 L198.25 55.39 L198.5 56.6 L198.75 57.46 L199 58.09 L199.25 58.55 L199.5 58.9 L199.75 59.17 L200 59.38 L200.25 59.55 L200.5 59.69 L200.75 59.8 L201 59.89 L201.25 59.97 L201.5 60.03 L201.75 60.09 L202 60.13 L202.25 60.17 L202.5 60.21 L202.75 60.24 L203 60.26 L203.25 60.28 L203.5 60.3 L203.75 60.32 L204 60.33 L204.25 60.34 L204.5 60.35 L204.75 60.36 L205 60.37 L205.25 60.37 L205.5 60.37 L205.75 60.37 L206 60.38 L206.25 60.37 L206.5 60.37 L206.75 60.37 L207 60.36 L207.25 60.35 L207.5 60.34 L207.75 60.33 L208 60.32 L208.25 60.3 L208.5 60.29 L208.75 60.26 L209 60.24 L209.25 60.21 L209.5 60.18 L209.75 60.14 L210 60.09 L210.25 60.03 L210.5 59.97 L210.75 59.89 L211 59.79 L211.25 59.68 L211.5 59.54 L211.75 59.36 L212 59.14 L212.25 58.86 L212.5 58.49 L212.75 58 L213 57.34 L213.25 56.42 L213.5 55.12 L213.75 53.3 L214 50.8 L214.25 47.75 L214.5 45 L214.75 44.19 L215 45.96 L215.25 49.01 L215.5 51.89 L215.75 54.12 L216 55.71 L216.25 56.84 L216.5 57.64 L216.75 58.23 L217 58.67 L217.25 59.01 L217.5 59.27 L217.75 59.47 L218 59.63 L218.25 59.77 L218.5 59.88 L218.75 59.97 L219 60.04 L219.25 60.11 L219.5 60.16 L219.75 60.21 L220 60.25 L220.25 60.29 L220.5 60.32 L220.75 60.35 L221 60.37 L221.25 60.4" fill="none" stroke="#1c1cff" stroke-width="1.15" stroke-linejoin="round"/>
<path d="M178.2 43.6H198" stroke="#f0304a" stroke-width="1" stroke-dasharray="1.5 1.1"/>
<text x="189.5" y="40.3" font-size="9.3" font-weight="bold" text-anchor="middle" fill="#111"  stroke="#111" stroke-width="0.25">188 kHz</text>
<path d="M419.1 183.5v-2.9M419.1 10v2.9M483.02 183.5v-2.9M483.02 10v2.9M546.95 183.5v-2.9M546.95 10v2.9M610.88 183.5v-2.9M610.88 10v2.9M674.8 183.5v-2.9M674.8 10v2.9M419.1 29.8h2.9M674.8 29.8h-2.9M419.1 53.75h2.9M674.8 53.75h-2.9M419.1 77.7h2.9M674.8 77.7h-2.9M419.1 101.65h2.9M674.8 101.65h-2.9M419.1 125.6h2.9M674.8 125.6h-2.9M419.1 149.55h2.9M674.8 149.55h-2.9M419.1 173.5h2.9M674.8 173.5h-2.9" stroke="#222" stroke-width="2" fill="none"/>
<rect x="419.1" y="10" width="255.7" height="173.5" fill="none" stroke="#222" stroke-width="2.1" stroke-linejoin="round"/>
<path d="M419.1 106.36 L419.55 106.19 L420 105.84 L420.45 106.02 L420.9 105.29 L421.35 105.64 L421.8 105.27 L422.25 105.51 L422.7 106.07 L423.15 106.3 L423.6 105.85 L424.05 107.86 L424.5 107.2 L424.95 106.42 L425.4 107.49 L425.85 106.74 L426.3 106.9 L426.75 107.7 L427.2 107.57 L427.65 107.14 L428.1 80.98 L428.55 80.97 L429 80.96 L429.45 79.8 L429.9 79.91 L430.35 80.28 L430.8 80.36 L431.25 88.57 L431.7 89.15 L432.15 88.7 L432.6 89.75 L433.05 88.07 L433.5 87.96 L433.95 87.41 L434.4 86.85 L434.85 86.84 L435.3 86.36 L435.75 85.98 L436.2 85.22 L436.65 84.49 L437.1 84.76 L437.55 83.31 L438 83.65 L438.45 83.74 L438.9 83.88 L439.35 83.29 L439.8 83.13 L440.25 84.29 L440.7 82.93 L441.15 82.14 L441.6 82.26 L442.05 82.93 L442.5 83.54 L442.95 82.99 L443.4 83.32 L443.85 82.29 L444.3 81.67 L444.75 81.02 L445.2 79.58 L445.65 79.29 L446.1 78.87 L446.55 79.08 L447 79.97 L447.45 80.93 L447.9 85.52 L448.35 85.07 L448.8 85.2 L449.25 84.72 L449.7 85.17 L450.15 84.56 L450.6 84.59 L451.05 85.41 L451.5 83.37 L451.95 84 L452.4 83.21 L452.85 84.69 L453.3 85.13 L453.75 85.11 L454.2 84.62 L454.65 83.64 L455.1 84.21 L455.55 82.84 L456 81.86 L456.45 80.94 L456.9 81.38 L457.35 80.91 L457.8 80.87 L458.25 81 L458.7 80.55 L459.15 79.48 L459.6 79.78 L460.05 78.14 L460.5 77.45 L460.95 77.46 L461.4 76.74 L461.85 76.08 L462.3 75.23 L462.75 76.16 L463.2 76.61 L463.65 76.85 L464.1 78.65 L464.55 78.59 L465 79.55 L465.45 80.2 L465.9 80.1 L466.35 81.54 L466.8 79.89 L467.25 80.4 L467.7 81.25 L468.15 83.19 L468.6 83.79 L469.05 84.28 L469.5 85.91 L469.95 85.44 L470.4 86.38 L470.85 87.75 L471.3 88.09 L471.75 89.17 L472.2 90.32 L472.65 90.41 L473.1 90.66 L473.55 90.3 L474 91.42 L474.45 91.99 L474.9 92.56 L475.35 94.37 L475.8 93.78 L476.25 94.19 L476.7 94.08 L477.15 95.15 L477.6 95.32 L478.05 94.63 L478.5 95.22 L478.95 94.57 L479.4 95.12 L479.85 95.08 L480.3 96.69 L480.75 96.89 L481.2 96.89 L481.65 96.39 L482.1 96.56 L482.55 97.22 L483 96.21 L483.45 95.98 L483.9 95.52 L484.35 94.72 L484.8 96.14 L485.25 95.27 L485.7 97.19 L486.15 98.03 L486.6 98.33 L487.05 100.6 L487.5 101.67 L487.95 102.03 L488.4 102.06 L488.85 102.91 L489.3 103.66 L489.75 104.02 L490.2 105.38 L490.65 105.44 L491.1 105.68 L491.55 106.17 L492 105.44 L492.45 105.7 L492.9 106.35 L493.35 106.55 L493.8 107.18 L494.25 107.2 L494.7 106.95 L495.15 107.16 L495.6 92.83 L496.05 78.42 L496.5 78.23 L496.95 78.69 L497.4 78.08 L497.85 78.32 L498.3 78.75 L498.75 83.03 L499.2 87.74 L499.65 87.06 L500.1 88.26 L500.55 87.52 L501 87.18 L501.45 86.64 L501.9 85.19 L502.35 86.97 L502.8 86 L503.25 85.99 L503.7 84.95 L504.15 85.79 L504.6 85.41 L505.05 84.77 L505.5 84.76 L505.95 84.93 L506.4 83.91 L506.85 83.37 L507.3 84.07 L507.75 83.2 L508.2 82.37 L508.65 82.52 L509.1 80.73 L509.55 80.4 L510 80.83 L510.45 80.67 L510.9 80.84 L511.35 80.56 L511.8 79.87 L512.25 79.72 L512.7 79.63 L513.15 79.32 L513.6 79.42 L514.05 79.96 L514.5 80.17 L514.95 80.74 L515.4 80.79 L515.85 81.29 L516.3 82.31 L516.75 81.37 L517.2 82.79 L517.65 84.32 L518.1 82.11 L518.55 83.2 L519 81.36 L519.45 82.13 L519.9 82.77 L520.35 82.98 L520.8 82.21 L521.25 82.27 L521.7 82.34 L522.15 83.32 L522.6 82.69 L523.05 82.4 L523.5 81.43 L523.95 80.24 L524.4 79.59 L524.85 79.11 L525.3 78.21 L525.75 79.35 L526.2 77.05 L526.65 78.5 L527.1 77.44 L527.55 77.37 L528 76.86 L528.45 76.44 L528.9 76.01 L529.35 75.19 L529.8 74.05 L530.25 75.27 L530.7 74.99 L531.15 75.98 L531.6 75.05 L532.05 74.7 L532.5 75.77 L532.95 76.94 L533.4 77.03 L533.85 78.02 L534.3 79.34 L534.75 78.91 L535.2 79.71 L535.65 80.98 L536.1 81.21 L536.55 81.51 L537 82.76 L537.45 84.67 L537.9 85.89 L538.35 86.96 L538.8 87.89 L539.25 88.08 L539.7 89.79 L540.15 90.58 L540.6 90.3 L541.05 91.6 L541.5 91.56 L541.95 92.36 L542.4 92.99 L542.85 92.71 L543.3 94.59 L543.75 94.1 L544.2 94.99 L544.65 95.37 L545.1 96.26 L545.55 96.43 L546 96.36 L546.45 96.99 L546.9 96.31 L547.35 95.78 L547.8 94.67 L548.25 96.22 L548.7 96.82 L549.15 97.1 L549.6 97.49 L550.05 98.37 L550.5 98.7 L550.95 99.08 L551.4 98.59 L551.85 97.58 L552.3 98.04 L552.75 97.67 L553.2 99.81 L553.65 100.9 L554.1 101.58 L554.55 102.81 L555 103.68 L555.45 104.35 L555.9 105.39 L556.35 106.36 L556.8 105.49 L557.25 105.76 L557.7 105.51 L558.15 105.44 L558.6 106.71 L559.05 105.65 L559.5 106 L559.95 105.66 L560.4 105.81 L560.85 105.42 L561.3 105.83 L561.75 105.34 L562.2 106.39 L562.65 107.62 L563.1 107.03 L563.55 80.79 L564 81.64 L564.45 81.09 L564.9 81.26 L565.35 79.82 L565.8 81.09 L566.25 80.65 L566.7 80.79 L567.15 90.46 L567.6 90.94 L568.05 89.76 L568.5 89.76 L568.95 89.09 L569.4 88.62 L569.85 87.85 L570.3 89.48 L570.75 88.63 L571.2 87.9 L571.65 87.42 L572.1 88.26 L572.55 87.78 L573 86.1 L573.45 86.02 L573.9 86.01 L574.35 84.58 L574.8 84.51 L575.25 85.06 L575.7 83.8 L576.15 83.59 L576.6 82.84 L577.05 82.77 L577.5 83.07 L577.95 81.98 L578.4 81.25 L578.85 80.94 L579.3 81.4 L579.75 80.22 L580.2 79.68 L580.65 79.97 L581.1 80.17 L581.55 80.43 L582 79.86 L582.45 81.06 L582.9 81.06 L583.35 81.75 L583.8 80.92 L584.25 82.01 L584.7 81.02 L585.15 80.01 L585.6 81.2 L586.05 80.75 L586.5 81.66 L586.95 81.8 L587.4 82.54 L587.85 82.68 L588.3 82.86 L588.75 82.86 L589.2 81.96 L589.65 82.03 L590.1 82.94 L590.55 82.46 L591 82.68 L591.45 82.05 L591.9 80.85 L592.35 80.51 L592.8 79.93 L593.25 79.43 L593.7 79.01 L594.15 78.6 L594.6 78.11 L595.05 76.45 L595.5 76.27 L595.95 77.05 L596.4 76.59 L596.85 76.04 L597.3 74.51 L597.75 74.68 L598.2 75.31 L598.65 75.32 L599.1 76.76 L599.55 76.08 L600 76.32 L600.45 75.97 L600.9 76.48 L601.35 77.26 L601.8 77.86 L602.25 78.53 L602.7 79.39 L603.15 80.08 L603.6 81.17 L604.05 80.85 L604.5 82.3 L604.95 83.06 L605.4 84.42 L605.85 84.34 L606.3 85.33 L606.75 85.55 L607.2 86.85 L607.65 87.47 L608.1 87.14 L608.55 87.01 L609 87.3 L609.45 88.55 L609.9 89.04 L610.35 90.89 L610.8 90.89 L611.25 92.28 L611.7 92.37 L612.15 91.83 L612.6 92.17 L613.05 94.21 L613.5 94.15 L613.95 94.91 L614.4 95.11 L614.85 95.59 L615.3 96.27 L615.75 96.35 L616.2 95.77 L616.65 96.75 L617.1 96.4 L617.55 96.04 L618 97.29 L618.45 97.26 L618.9 98.23 L619.35 98.12 L619.8 98.95 L620.25 98.38 L620.7 99.55 L621.15 98.87 L621.6 99.94 L622.05 99.66 L622.5 101.76 L622.95 103.21 L623.4 104.34 L623.85 105.23 L624.3 104.56 L624.75 106.09 L625.2 106.36 L625.65 105.28 L626.1 105.63 L626.55 105.88 L627 106.26 L627.45 106.5 L627.9 105.43 L628.35 106.96 L628.8 106.71 L629.25 106.51 L629.7 107.54 L630.15 107.09 L630.6 107.89 L631.05 103.36 L631.5 80.98 L631.95 81.5 L632.4 81.17 L632.85 80.54 L633.3 80.26 L633.75 80.96 L634.2 84.21 L634.65 88.92 L635.1 89.59 L635.55 88.51 L636 88.09 L636.45 88.4 L636.9 88.36 L637.35 89.28 L637.8 88.63 L638.25 87.06 L638.7 86.28 L639.15 86.52 L639.6 85.56 L640.05 85.79 L640.5 85.55 L640.95 86.29 L641.4 87.02 L641.85 86.58 L642.3 86.02 L642.75 86.58 L643.2 85.47 L643.65 84.96 L644.1 85.27 L644.55 83.59 L645 84.25 L645.45 83.12 L645.9 82.9 L646.35 82.57 L646.8 82.55 L647.25 82.13 L647.7 81.76 L648.15 81.17 L648.6 81.04 L649.05 80.4 L649.5 80.33 L649.95 80.99 L650.4 81.29 L650.85 81.85 L651.3 83.05 L651.75 82.86 L652.2 83.62 L652.65 82.9 L653.1 85.24 L653.55 83.49 L654 83.85 L654.45 83.81 L654.9 82.14 L655.35 82.02 L655.8 81.12 L656.25 81.42 L656.7 80.72 L657.15 81.36 L657.6 81.4 L658.05 81.03 L658.5 81.32 L658.95 81.63 L659.4 81.35 L659.85 81.56 L660.3 81.9 L660.75 82.25 L661.2 82.65 L661.65 81.32 L662.1 80.2 L662.55 79.45 L663 79.13 L663.45 78.11 L663.9 77.81 L664.35 76.93 L664.8 76.76 L665.25 76.95 L665.7 76.47 L666.15 77.79 L666.6 78.9 L667.05 78.95 L667.5 79.92 L667.95 80.04 L668.4 80.43 L668.85 80.4 L669.3 80.89 L669.75 81.13 L670.2 80.09 L670.65 80.13 L671.1 80.08 L671.55 81.95 L672 82.72 L672.45 84.12 L672.9 85.13 L673.35 85.59 L673.8 86.09 L674.25 87.59 L674.7 88.21 L674.7 162.8 L674.25 163.69 L673.8 164.78 L673.35 165.32 L672.9 166.79 L672.45 167.23 L672 168.65 L671.55 169.58 L671.1 170.34 L670.65 171.1 L670.2 171.93 L669.75 169.98 L669.3 170.78 L668.85 171.85 L668.4 171.13 L667.95 172.58 L667.5 173.79 L667.05 174.96 L666.6 176.87 L666.15 178.5 L665.7 177.42 L665.25 177.06 L664.8 175.32 L664.35 174.93 L663.9 173.75 L663.45 172.65 L663 172.38 L662.55 172.16 L662.1 172.18 L661.65 172.88 L661.2 170.85 L660.75 170.72 L660.3 169.38 L659.85 169.01 L659.4 168.79 L658.95 167.83 L658.5 166.97 L658.05 166.12 L657.6 165.86 L657.15 165.67 L656.7 164.43 L656.25 164.92 L655.8 164.44 L655.35 164.42 L654.9 164.6 L654.45 165.57 L654 165.92 L653.55 164.7 L653.1 165.87 L652.65 166.58 L652.2 166.59 L651.75 166.22 L651.3 166.24 L650.85 167.36 L650.4 167.41 L649.95 168.45 L649.5 168.97 L649.05 169.46 L648.6 170.71 L648.15 170.39 L647.7 170.67 L647.25 170.54 L646.8 169.39 L646.35 169.28 L645.9 168.09 L645.45 168.12 L645 167.67 L644.55 167.83 L644.1 167.13 L643.65 167.73 L643.2 168.1 L642.75 167.97 L642.3 170.47 L641.85 169.58 L641.4 169.46 L640.95 167.33 L640.5 166.34 L640.05 165.58 L639.6 165.2 L639.15 165.22 L638.7 163.51 L638.25 163.69 L637.8 163.63 L637.35 163.85 L636.9 162.95 L636.45 163.12 L636 163.09 L635.55 162.59 L635.1 161.84 L634.65 161.76 L634.2 170.04 L633.75 171.97 L633.3 172.66 L632.85 172.02 L632.4 171.13 L631.95 170.21 L631.5 169.77 L631.05 146.39 L630.6 142.09 L630.15 142.62 L629.7 141.76 L629.25 142.89 L628.8 143 L628.35 143.23 L627.9 144.4 L627.45 144.02 L627 146.41 L626.55 146.15 L626.1 145.5 L625.65 144.67 L625.2 145.38 L624.75 146.16 L624.3 145.36 L623.85 146.62 L623.4 146.69 L622.95 147.2 L622.5 148.89 L622.05 149.84 L621.6 150.52 L621.15 151.97 L620.7 152.47 L620.25 153.3 L619.8 153.39 L619.35 154.53 L618.9 155.48 L618.45 154.39 L618 154.83 L617.55 154.15 L617.1 154.55 L616.65 153.92 L616.2 153.99 L615.75 154.63 L615.3 153.87 L614.85 154.56 L614.4 154.46 L613.95 155.32 L613.5 154.51 L613.05 154.93 L612.6 155.41 L612.15 156.31 L611.7 156.45 L611.25 155.97 L610.8 156.96 L610.35 157.03 L609.9 157.4 L609.45 158.28 L609 157.41 L608.55 159.32 L608.1 158.72 L607.65 159.5 L607.2 161.37 L606.75 161.48 L606.3 161.93 L605.85 162.48 L605.4 163.37 L604.95 163.47 L604.5 163.91 L604.05 165.08 L603.6 165.11 L603.15 166.15 L602.7 166.84 L602.25 167.21 L601.8 168.78 L601.35 169.37 L600.9 169.47 L600.45 169.93 L600 169.95 L599.55 170.57 L599.1 171.47 L598.65 171.91 L598.2 172.59 L597.75 173.1 L597.3 173.6 L596.85 172.88 L596.4 173.24 L595.95 172.92 L595.5 172.42 L595.05 172.46 L594.6 172.09 L594.15 172.78 L593.7 171.6 L593.25 172.11 L592.8 172.18 L592.35 171.89 L591.9 171.99 L591.45 168.88 L591 168.8 L590.55 167.95 L590.1 168.23 L589.65 166.72 L589.2 166.53 L588.75 166.59 L588.3 165.83 L587.85 164.87 L587.4 165.49 L586.95 165.63 L586.5 164.64 L586.05 165.25 L585.6 165.66 L585.15 164.79 L584.7 166 L584.25 166.43 L583.8 166.58 L583.35 167.26 L582.9 167.43 L582.45 168.08 L582 169.24 L581.55 169.89 L581.1 170.19 L580.65 169.67 L580.2 168.65 L579.75 167.66 L579.3 167.19 L578.85 166.54 L578.4 166.53 L577.95 166.69 L577.5 166.4 L577.05 168.05 L576.6 167.15 L576.15 165.88 L575.7 167.99 L575.25 166.33 L574.8 167.71 L574.35 166.48 L573.9 165.15 L573.45 164.46 L573 164.83 L572.55 164.38 L572.1 164.52 L571.65 163.99 L571.2 165.02 L570.75 165 L570.3 164.39 L569.85 163.52 L569.4 162.94 L568.95 163.13 L568.5 164.23 L568.05 163.09 L567.6 165.1 L567.15 163.37 L566.7 172.61 L566.25 172.7 L565.8 172.84 L565.35 172.54 L564.9 171.85 L564.45 171.23 L564 171.06 L563.55 169.77 L563.1 144.07 L562.65 143.31 L562.2 144.21 L561.75 144.69 L561.3 144.41 L560.85 144.44 L560.4 145.48 L559.95 145.43 L559.5 144.89 L559.05 145.99 L558.6 145.87 L558.15 145.36 L557.7 145.93 L557.25 146.45 L556.8 146.09 L556.35 145.29 L555.9 146.4 L555.45 148.89 L555 151.22 L554.55 152.81 L554.1 151.79 L553.65 151.49 L553.2 152.41 L552.75 151.88 L552.3 152.72 L551.85 152.73 L551.4 152.91 L550.95 154.01 L550.5 152.95 L550.05 154.25 L549.6 154.18 L549.15 154.67 L548.7 154.64 L548.25 155.17 L547.8 155.89 L547.35 155.65 L546.9 156.28 L546.45 156.55 L546 157.65 L545.55 156.59 L545.1 156.78 L544.65 157.28 L544.2 157.58 L543.75 157.43 L543.3 157.92 L542.85 158.59 L542.4 160.18 L541.95 161.86 L541.5 161.46 L541.05 161.82 L540.6 160.71 L540.15 161.07 L539.7 161.89 L539.25 162.13 L538.8 162.96 L538.35 164.33 L537.9 164.81 L537.45 165.39 L537 167.54 L536.55 168.15 L536.1 168.65 L535.65 168.89 L535.2 168.11 L534.75 170.06 L534.3 170.69 L533.85 171.57 L533.4 171.3 L532.95 171.34 L532.5 170.97 L532.05 172.01 L531.6 171.88 L531.15 171.72 L530.7 173.4 L530.25 173.96 L529.8 173.91 L529.35 175.21 L528.9 174.96 L528.45 175.86 L528 173.99 L527.55 173.83 L527.1 173.22 L526.65 171.9 L526.2 171.17 L525.75 172.11 L525.3 171.75 L524.85 171.33 L524.4 170.83 L523.95 171 L523.5 169.14 L523.05 169.74 L522.6 169.68 L522.15 168.67 L521.7 166.06 L521.25 165.01 L520.8 165.43 L520.35 164.71 L519.9 164.29 L519.45 165.53 L519 165.63 L518.55 165.26 L518.1 166.4 L517.65 165.95 L517.2 165.74 L516.75 164.99 L516.3 164.08 L515.85 164.94 L515.4 165.94 L514.95 166.43 L514.5 166.15 L514.05 167.67 L513.6 168.14 L513.15 167.13 L512.7 166.3 L512.25 165.76 L511.8 165.94 L511.35 164.3 L510.9 163.85 L510.45 163.34 L510 164.51 L509.55 163.64 L509.1 164.62 L508.65 165.51 L508.2 164.47 L507.75 165.55 L507.3 165.31 L506.85 165.78 L506.4 165.07 L505.95 165.12 L505.5 165.2 L505.05 165.13 L504.6 165.42 L504.15 164.33 L503.7 162.6 L503.25 162.64 L502.8 161.99 L502.35 162.31 L501.9 162.98 L501.45 162.29 L501 161.5 L500.55 160.56 L500.1 159.63 L499.65 158.8 L499.2 158.67 L498.75 170.37 L498.3 170.72 L497.85 170.48 L497.4 171.69 L496.95 172.32 L496.5 173.39 L496.05 172.31 L495.6 152.34 L495.15 143.07 L494.7 141.9 L494.25 142.51 L493.8 142.1 L493.35 142.62 L492.9 142.8 L492.45 143.15 L492 143.9 L491.55 144.46 L491.1 144.39 L490.65 144.05 L490.2 143.28 L489.75 144.38 L489.3 144.13 L488.85 144.54 L488.4 144.28 L487.95 145.45 L487.5 146.54 L487.05 148.56 L486.6 149.54 L486.15 151.1 L485.7 152.2 L485.25 152.28 L484.8 152.27 L484.35 152.16 L483.9 153.12 L483.45 152.36 L483 153.08 L482.55 152.24 L482.1 152.61 L481.65 153.63 L481.2 153.9 L480.75 152.66 L480.3 153.77 L479.85 154.09 L479.4 154.97 L478.95 155.74 L478.5 156.93 L478.05 158.52 L477.6 159.37 L477.15 157.64 L476.7 157.39 L476.25 157.75 L475.8 156.91 L475.35 157.57 L474.9 157.5 L474.45 158.51 L474 158.55 L473.55 159.95 L473.1 159.54 L472.65 160.91 L472.2 160.66 L471.75 162.39 L471.3 161.78 L470.85 161.93 L470.4 162.55 L469.95 163.11 L469.5 165.34 L469.05 165.42 L468.6 166.85 L468.15 169.71 L467.7 170.43 L467.25 171.14 L466.8 171.41 L466.35 171.54 L465.9 172.77 L465.45 171.44 L465 172.24 L464.55 173.19 L464.1 172.91 L463.65 173.88 L463.2 173.38 L462.75 173.71 L462.3 174.25 L461.85 173.9 L461.4 174.48 L460.95 175.39 L460.5 175.29 L460.05 174.41 L459.6 173.65 L459.15 173.88 L458.7 172.69 L458.25 172.83 L457.8 172.06 L457.35 171.78 L456.9 171.92 L456.45 170.85 L456 170.69 L455.55 171.23 L455.1 170.45 L454.65 169.04 L454.2 169.49 L453.75 169.26 L453.3 169.56 L452.85 168.71 L452.4 167.5 L451.95 167.16 L451.5 166.95 L451.05 165.75 L450.6 166.32 L450.15 166.37 L449.7 165.69 L449.25 167.14 L448.8 166.42 L448.35 167.51 L447.9 167.45 L447.45 168.08 L447 168.14 L446.55 168.6 L446.1 169.13 L445.65 169.01 L445.2 167.64 L444.75 166.71 L444.3 166.38 L443.85 165.71 L443.4 165.9 L442.95 166.93 L442.5 166.73 L442.05 166.69 L441.6 165.68 L441.15 166.56 L440.7 164.51 L440.25 166.42 L439.8 165.97 L439.35 165.73 L438.9 167.06 L438.45 166.68 L438 167.13 L437.55 166.63 L437.1 166.53 L436.65 165.21 L436.2 164.72 L435.75 164.42 L435.3 162.8 L434.85 161.78 L434.4 161.68 L433.95 161.24 L433.5 160.88 L433.05 160.7 L432.6 159.79 L432.15 160.44 L431.7 160.61 L431.25 165 L430.8 172.39 L430.35 173.06 L429.9 173.06 L429.45 173.58 L429 172.64 L428.55 172.34 L428.1 173.12 L427.65 148.71 L427.2 143.58 L426.75 144.12 L426.3 143.7 L425.85 144.06 L425.4 144.1 L424.95 144.55 L424.5 144.57 L424.05 144.73 L423.6 146.05 L423.15 146.41 L422.7 146.93 L422.25 145.73 L421.8 146.11 L421.35 145.67 L420.9 145.21 L420.45 144.75 L420 144.06 L419.55 142.74 L419.1 142.89Z" fill="#0072bd" stroke="#0072bd" stroke-width="2.4" stroke-linejoin="round"/>
<path d="M496.3 78V158M564.6 81V160M496.3 125.6H564.6" stroke="#fff" stroke-width="0.85" stroke-dasharray="2.6 1.5" fill="none"/>
<text x="530.5" y="121.2" font-size="9.4" font-weight="bold" text-anchor="middle" fill="#fff"><tspan font-style="italic">T</tspan> = 5.3018 μs</text>
<path d="M586.4 74.5V157M589.2 74.5V157" stroke="#d2263a" stroke-width="0.95" stroke-dasharray="2.6 1.4" fill="none"/>
<text x="419" y="198.3" font-size="11.0" font-weight="bold" text-anchor="middle" fill="#111"  stroke="#111" stroke-width="0.25">0</text>
<text x="483" y="198.3" font-size="11.0" font-weight="bold" text-anchor="middle" fill="#111"  stroke="#111" stroke-width="0.25">5</text>
<text x="547" y="198.3" font-size="11.0" font-weight="bold" text-anchor="middle" fill="#111"  stroke="#111" stroke-width="0.25">10</text>
<text x="611" y="198.3" font-size="11.0" font-weight="bold" text-anchor="middle" fill="#111"  stroke="#111" stroke-width="0.25">15</text>
<text x="675" y="198.3" font-size="11.0" font-weight="bold" text-anchor="middle" fill="#111"  stroke="#111" stroke-width="0.25">20</text>
<text x="413.6" y="33.35" font-size="11.0" font-weight="bold" text-anchor="end" fill="#111"  stroke="#111" stroke-width="0.25">100</text>
<text x="413.6" y="57.3" font-size="11.0" font-weight="bold" text-anchor="end" fill="#111"  stroke="#111" stroke-width="0.25">75</text>
<text x="413.6" y="81.25" font-size="11.0" font-weight="bold" text-anchor="end" fill="#111"  stroke="#111" stroke-width="0.25">50</text>
<text x="413.6" y="105.2" font-size="11.0" font-weight="bold" text-anchor="end" fill="#111"  stroke="#111" stroke-width="0.25">25</text>
<text x="413.6" y="129.15" font-size="11.0" font-weight="bold" text-anchor="end" fill="#111"  stroke="#111" stroke-width="0.25">0</text>
<text x="413.6" y="153.1" font-size="11.0" font-weight="bold" text-anchor="end" fill="#111"  stroke="#111" stroke-width="0.25">−25</text>
<text x="413.6" y="177.05" font-size="11.0" font-weight="bold" text-anchor="end" fill="#111"  stroke="#111" stroke-width="0.25">−50</text>
<text x="547" y="215.6" font-size="10.85" font-weight="bold" text-anchor="middle" fill="#111"  stroke="#111" stroke-width="0.25">Time (μs)</text>
<text transform="translate(383.3 96) rotate(-90)" font-size="10.85" font-weight="bold" text-anchor="middle" fill="#111" stroke="#111" stroke-width="0.25">Amplitude (mV)</text>
<text transform="translate(375.4 11.4) scale(0.9 1)" font-size="16.2" font-weight="bold" fill="#000" stroke="#000" stroke-width="0.25">b</text>
<rect x="539.4" y="33.2" width="96.2" height="39.9" fill="#fff" stroke="#a8a8a8" stroke-width="0.8"/>
<path d="M539.8 61.69 L540 59.13 L540.2 56.26 L540.4 53.19 L540.6 50.09 L540.8 47.09 L541 44.34 L541.2 41.96 L541.4 40.07 L541.6 38.76 L541.8 38.08 L542 38.08 L542.2 38.76 L542.4 40.07 L542.6 41.96 L542.8 44.34 L543 47.09 L543.2 50.09 L543.4 53.19 L543.6 56.26 L543.8 59.13 L544 61.69 L544.2 63.8 L544.4 65.36 L544.6 66.31 L544.8 66.6 L545 66.21 L545.2 65.16 L545.4 63.51 L545.6 61.33 L545.8 58.72 L546 55.81 L546.2 52.73 L546.4 49.63 L546.6 46.66 L546.8 43.95 L547 41.64 L547.2 39.83 L547.4 38.61 L547.6 38.04 L547.8 38.14 L548 38.91 L548.2 40.32 L548.4 42.29 L548.6 44.73 L548.8 47.53 L549 50.55 L549.2 53.66 L549.4 56.7 L549.6 59.54 L549.8 62.03 L550 64.07 L550.2 65.54 L550.4 66.4 L550.6 66.58 L550.8 66.09 L551 64.95 L551.2 63.22 L551.4 60.96 L551.6 58.3 L551.8 55.35 L552 52.26 L552.2 49.17 L552.4 46.23 L552.6 43.58 L552.8 41.33 L553 39.61 L553.2 38.49 L553.4 38.01 L553.6 38.22 L553.8 39.08 L554 40.58 L554.2 42.62 L554.4 45.13 L554.6 47.97 L554.8 51.02 L555 54.12 L555.2 57.15 L555.4 59.94 L555.6 62.37 L555.8 64.33 L556 65.71 L556.2 66.47 L556.4 66.55 L556.6 65.96 L556.8 64.73 L557 62.91 L557.2 60.59 L557.4 57.87 L557.6 54.89 L557.8 51.79 L558 48.72 L558.2 45.81 L558.4 43.21 L558.6 41.04 L558.8 39.4 L559 38.37 L559.2 38 L559.4 38.3 L559.6 39.27 L559.8 40.85 L560 42.97 L560.2 45.54 L560.4 48.42 L560.6 51.48 L560.8 54.59 L561 57.58 L561.2 60.33 L561.4 62.7 L561.6 64.57 L561.8 65.87 L562 66.52 L562.2 66.51 L562.4 65.82 L562.6 64.49 L562.8 62.59 L563 60.2 L563.2 57.44 L563.4 54.43 L563.6 51.33 L563.8 48.27 L564 45.4 L564.2 42.86 L564.4 40.76 L564.6 39.21 L564.8 38.27 L565 38 L565.2 38.41 L565.4 39.47 L565.6 41.14 L565.8 43.33 L566 45.95 L566.2 48.87 L566.4 51.95 L566.6 55.05 L566.8 58.01 L567 60.71 L567.2 63.01 L567.4 64.81 L567.6 66.01 L567.8 66.56 L568 66.45 L568.2 65.66 L568.4 64.24 L568.6 62.26 L568.8 59.81 L569 57 L569.2 53.97 L569.4 50.86 L569.6 47.82 L569.8 44.99 L570 42.51 L570.2 40.49 L570.4 39.03 L570.6 38.19 L570.8 38.02 L571 38.53 L571.2 39.68 L571.4 41.44 L571.6 43.7 L571.8 46.37 L572 49.32 L572.2 52.42 L572.4 55.5 L572.6 58.44 L572.8 61.08 L573 63.32 L573.2 65.03 L573.4 66.13 L573.6 66.59 L573.8 66.37 L574 65.49 L574.2 63.98 L574.4 61.92 L574.6 59.41 L574.8 56.56 L575 53.51 L575.2 50.4 L575.4 47.38 L575.6 44.6 L575.8 42.17 L576 40.23 L576.2 38.86 L576.4 38.12 L576.6 38.05 L576.8 38.66 L577 39.91 L577.2 41.74 L577.4 44.08 L577.6 46.8 L577.8 49.78 L578 52.88 L578.2 55.96 L578.4 58.86 L578.6 61.45 L578.8 63.61 L579 65.23 L579.2 66.25 L579.4 66.6 L579.6 66.28 L579.8 65.3 L580 63.7 L580.2 61.57 L580.4 59 L580.6 56.11 L580.8 53.04 L581 49.94 L581.2 46.94 L581.4 44.21 L581.6 41.85 L581.8 39.99 L582 38.71 L582.2 38.07 L582.4 38.1 L582.6 38.81 L582.8 40.15 L583 42.07 L583.2 44.46 L583.4 47.23 L583.6 50.24 L583.8 53.35 L584 56.41 L584.2 59.27 L584.4 61.8 L584.6 63.89 L584.8 65.42 L585 66.34 L585.2 66.59 L585.4 66.17 L585.6 65.1 L585.8 63.41 L586 61.21 L586.2 58.58 L586.4 55.66 L586.6 52.57 L586.8 49.48 L587 46.51 L587.2 43.83 L587.4 41.54 L587.6 39.76 L587.8 38.57 L588 38.03 L588.2 38.17 L588.4 38.97 L588.6 40.4 L588.8 42.4 L589 44.86 L589.2 47.67 L589.4 50.71 L589.6 53.82 L589.8 56.85 L590 59.67 L590.2 62.15 L590.4 64.15 L590.6 65.6 L590.8 66.42 L591 66.57 L591.2 66.05 L591.4 64.88 L591.6 63.11 L591.8 60.84 L592 58.16 L592.2 55.2 L592.4 52.11 L592.6 49.02 L592.8 46.09 L593 43.45 L593.2 41.24 L593.4 39.54 L593.6 38.45 L593.8 38.01 L594 38.24 L594.2 39.15 L594.4 40.67 L594.6 42.74 L594.8 45.26 L595 48.12 L595.2 51.17 L595.4 54.28 L595.6 57.29 L595.8 60.07 L596 62.48 L596.2 64.41 L596.4 65.77 L596.6 66.49 L596.8 66.54 L597 65.92 L597.2 64.65 L597.4 62.8 L597.6 60.46 L597.8 57.73 L598 54.74 L598.2 51.64 L598.4 48.57 L598.6 45.67 L598.8 43.09 L599 40.95 L599.2 39.34 L599.4 38.34 L599.6 38 L599.8 38.34 L600 39.34 L600.2 40.95 L600.4 43.09 L600.6 45.67 L600.8 48.57 L601 51.64 L601.2 54.74 L601.4 57.73 L601.6 60.46 L601.8 62.8 L602 64.65 L602.2 65.92 L602.4 66.54 L602.6 66.49 L602.8 65.77 L603 64.41 L603.2 62.48 L603.4 60.07 L603.6 57.29 L603.8 54.28 L604 51.17 L604.2 48.12 L604.4 45.26 L604.6 42.74 L604.8 40.67 L605 39.15 L605.2 38.24 L605.4 38.01 L605.6 38.45 L605.8 39.54 L606 41.24 L606.2 43.45 L606.4 46.09 L606.6 49.02 L606.8 52.11 L607 55.2 L607.2 58.16 L607.4 60.84 L607.6 63.11 L607.8 64.88 L608 66.05 L608.2 66.57 L608.4 66.42 L608.6 65.6 L608.8 64.15 L609 62.15 L609.2 59.67 L609.4 56.85 L609.6 53.82 L609.8 50.71 L610 47.67 L610.2 44.86 L610.4 42.4 L610.6 40.4 L610.8 38.97 L611 38.17 L611.2 38.03 L611.4 38.57 L611.6 39.76 L611.8 41.54 L612 43.83 L612.2 46.51 L612.4 49.48 L612.6 52.57 L612.8 55.66 L613 58.58 L613.2 61.21 L613.4 63.41 L613.6 65.1 L613.8 66.17 L614 66.59 L614.2 66.34 L614.4 65.42 L614.6 63.89 L614.8 61.8 L615 59.27 L615.2 56.41 L615.4 53.35 L615.6 50.24 L615.8 47.23 L616 44.46 L616.2 42.07 L616.4 40.15 L616.6 38.81 L616.8 38.1 L617 38.07 L617.2 38.71 L617.4 39.99 L617.6 41.85 L617.8 44.21 L618 46.94 L618.2 49.94 L618.4 53.04 L618.6 56.11 L618.8 59 L619 61.57 L619.2 63.7 L619.4 65.3 L619.6 66.28 L619.8 66.6 L620 66.25 L620.2 65.23 L620.4 63.61 L620.6 61.45 L620.8 58.86 L621 55.96 L621.2 52.88 L621.4 49.78 L621.6 46.8 L621.8 44.08 L622 41.74 L622.2 39.91 L622.4 38.66 L622.6 38.05 L622.8 38.12 L623 38.86 L623.2 40.23 L623.4 42.17 L623.6 44.6 L623.8 47.38 L624 50.4 L624.2 53.51 L624.4 56.56 L624.6 59.41 L624.8 61.92 L625 63.98 L625.2 65.49 L625.4 66.37 L625.6 66.59 L625.8 66.13 L626 65.03 L626.2 63.32 L626.4 61.08 L626.6 58.44 L626.8 55.5 L627 52.42 L627.2 49.32 L627.4 46.37 L627.6 43.7 L627.8 41.44 L628 39.68 L628.2 38.53 L628.4 38.02 L628.6 38.19 L628.8 39.03 L629 40.49 L629.2 42.51 L629.4 44.99 L629.6 47.82 L629.8 50.86 L630 53.97 L630.2 57 L630.4 59.81 L630.6 62.26 L630.8 64.24 L631 65.66 L631.2 66.45 L631.4 66.56 L631.6 66.01 L631.8 64.81 L632 63.01 L632.2 60.71 L632.4 58.01 L632.6 55.05 L632.8 51.95 L633 48.87 L633.2 45.95 L633.4 43.33 L633.6 41.14 L633.8 39.47 L634 38.41 L634.2 38 L634.4 38.27 L634.6 39.21 L634.8 40.76 L635 42.86 L635.2 45.4 L635.4 48.27" fill="none" stroke="#3d8fcd" stroke-width="0.8" stroke-linejoin="round"/>
<path d="M44 423.9H299.1" stroke="#8e8e8e" stroke-width="1.3"/>
<rect x="41.5" y="238.6" width="257.6" height="184.4" fill="#3e26a8"/>
<path d="M41.77 315.36 L42.71 313.91 L43.81 312.47 L44.99 311.02 L45.75 309.58 L46.62 308.13 L47.64 306.69 L48.76 305.24 L49.61 303.8M54.25 403.5 L54.84 402.06 L55.06 400.61 L55.44 399.17 L56.31 397.72 L57.1 396.28 L57.99 394.83 L59.26 393.39 L60.29 391.94 L61 390.5 L61.87 389.05 L62.97 387.61 L64.19 386.16 L65.2 384.72 L66.06 383.27 L67.15 381.83 L67.7 380.38 L68.12 378.94 L68.95 377.49 L70.3 376.05 L71.25 374.6 L72.05 373.16 L73.54 371.71 L74.25 370.27 L74.95 368.82 L76.11 367.38 L77.31 365.93 L78.04 364.49 L78.92 363.04 L80.26 361.6 L81.18 360.15 L82.04 358.71 L83.19 357.26 L84.15 355.82 L84.88 354.37 L85.74 352.93 L86.81 351.48 L87.77 350.04 L88.72 348.59 L89.74 347.15 L90.78 345.7 L91.58 344.26 L92.35 342.81 L93.5 341.37 L94.51 339.92 L95.6 338.48 L96.55 337.03 L97.46 335.59 L98.69 334.14 L99.64 332.7 L100.06 331.25 L100.61 329.81 L101.87 328.36 L103.01 326.92 L103.89 325.47 L104.88 324.03 L106.01 322.58 L107.21 321.14 L107.73 319.69 L108.52 318.25 L109.62 316.8 L110.3 315.36 L111.42 313.91 L112.57 312.47 L113.49 311.02 L114.9 309.58 L116.01 308.13 L116.72 306.69 L117.37 305.24 L117.93 303.8M123.24 403.5 L123.45 402.06 L123.72 400.61 L124.19 399.17 L124.8 397.72 L126.24 396.28 L127.12 394.83 L127.61 393.39 L128.65 391.94 L129.7 390.5 L130.41 389.05 L131 387.61 L132.06 386.16 L133.29 384.72 L134.21 383.27 L135.02 381.83 L135.94 380.38 L137 378.94 L138.1 377.49 L138.84 376.05 L139.71 374.6 L141.01 373.16 L142.04 371.71 L142.69 370.27 L143.6 368.82 L144.79 367.38 L145.94 365.93 L146.61 364.49 L147.55 363.04 L148.71 361.6 L149.58 360.15 L150.73 358.71 L151.5 357.26 L152.19 355.82 L153.27 354.37 L154.49 352.93 L155.37 351.48 L155.95 350.04 L156.88 348.59 L158.14 347.15 L159.42 345.7 L160.22 344.26 L160.91 342.81 L161.92 341.37 L162.91 339.92 L163.73 338.48 L164.62 337.03 L165.78 335.59 L166.83 334.14 L167.75 332.7 L168.51 331.25 L169.36 329.81 L170.36 328.36 L171.6 326.92 L172.93 325.47 L173.76 324.03 L174.73 322.58 L175.58 321.14 L176.2 319.69 L176.98 318.25 L178.02 316.8 L179.12 315.36 L180.05 313.91 L181.17 312.47 L182.07 311.02 L182.74 309.58 L183.73 308.13 L184.86 306.69 L185.83 305.24 L186.91 303.8M191.31 403.5 L191.79 402.06 L192.61 400.61 L193.32 399.17 L193.61 397.72 L194.21 396.28 L195.11 394.83 L196.29 393.39 L197.47 391.94 L198.77 390.5 L199.54 389.05 L200.1 387.61 L201.03 386.16 L201.97 384.72 L202.92 383.27 L203.68 381.83 L204.87 380.38 L206.04 378.94 L207.03 377.49 L207.88 376.05 L208.66 374.6 L209.81 373.16 L210.39 371.71 L211 370.27 L212.41 368.82 L213.61 367.38 L214.12 365.93 L214.93 364.49 L216.02 363.04 L217.01 361.6 L218.42 360.15 L219.35 358.71 L220.39 357.26 L221.4 355.82 L221.88 354.37 L223.14 352.93 L224.39 351.48 L225.31 350.04 L226.44 348.59 L227.34 347.15 L228.16 345.7 L228.64 344.26 L229.24 342.81 L230.56 341.37 L231.7 339.92 L232.7 338.48 L233.53 337.03 L234.56 335.59 L235.94 334.14 L236.8 332.7 L237.55 331.25 L238.49 329.81 L239.46 328.36 L240.37 326.92 L241.07 325.47 L242.02 324.03 L243.08 322.58 L243.74 321.14 L244.71 319.69 L245.93 318.25 L246.88 316.8 L247.74 315.36 L248.74 313.91 L249.89 312.47 L250.64 311.02 L251.54 309.58 L252.75 308.13 L253.78 306.69 L254.44 305.24 L255.08 303.8M260.02 403.5 L260.32 402.06 L261.23 400.61 L261.75 399.17 L261.78 397.72 L262.99 396.28 L263.99 394.83 L264.43 393.39 L265.44 391.94 L266.62 390.5 L267.51 389.05 L268.35 387.61 L269.24 386.16 L270.44 384.72 L271.53 383.27 L272.32 381.83 L273.16 380.38 L274.16 378.94 L275.26 377.49 L276.33 376.05 L277.05 374.6 L278.13 373.16 L279.18 371.71 L280.09 370.27 L281 368.82 L281.94 367.38 L283.03 365.93 L283.94 364.49 L285 363.04 L286.02 361.6 L286.92 360.15 L287.82 358.71 L288.53 357.26 L289.44 355.82 L290.23 354.37 L290.81 352.93 L292.09 351.48 L293.39 350.04 L294.66 348.59 L295.76 347.15 L296.65 345.7 L297.43 344.26 L298.27 342.81" fill="none" stroke="#e4df30" stroke-width="0.95" stroke-linejoin="round"/>
<path d="M120.4 304.8V399.8" stroke="#fff" stroke-width="1" stroke-dasharray="2.2 1.6"/>
<text x="124" y="343.5" font-size="9.2" font-weight="bold" text-anchor="start" fill="#fff"  stroke="#fff" stroke-width="0.25">30 GHz</text>
<rect x="117.2" y="247.4" width="67.4" height="48.5" fill="#3e26a8" stroke="#fff" stroke-width="2.1"/>
<path d="M122.2 291.4L177.8 251.4" stroke="#dcd62e" stroke-width="1.5"/>
<path d="M122.5 291.2L177.7 251.5" stroke="#e0203a" stroke-width="1.1" stroke-dasharray="4 0.6"/>
<path d="M138.2 280.6H148.7" stroke="#c9c64f" stroke-width="0.8"/>
<path d="M140.3 287.8H148.8" stroke="#e0203a" stroke-width="1.2"/>
<text x="149.8" y="282.5" font-size="6.3" font-weight="normal" text-anchor="start" fill="#fff" >Measured</text>
<text x="149.8" y="290" font-size="6.3" font-weight="normal" text-anchor="start" fill="#fff" >Linear fitted</text>
<text x="196.4" y="269.3" font-size="9.4" font-weight="bold" fill="#fff"><tspan font-style="italic">R</tspan><tspan font-size="6" dy="-4">2</tspan><tspan dy="4"> = 0.9992</tspan></text>
<text x="43.5" y="439.1" font-size="11.4" font-weight="normal" text-anchor="middle" fill="#111" >0</text>
<text x="69" y="439.1" font-size="11.4" font-weight="normal" text-anchor="middle" fill="#111" >2</text>
<text x="94.5" y="439.1" font-size="11.4" font-weight="normal" text-anchor="middle" fill="#111" >4</text>
<text x="120" y="439.1" font-size="11.4" font-weight="normal" text-anchor="middle" fill="#111" >6</text>
<text x="145.5" y="439.1" font-size="11.4" font-weight="normal" text-anchor="middle" fill="#111" >8</text>
<text x="171" y="439.1" font-size="11.4" font-weight="normal" text-anchor="middle" fill="#111" >10</text>
<text x="196.5" y="439.1" font-size="11.4" font-weight="normal" text-anchor="middle" fill="#111" >12</text>
<text x="222" y="439.1" font-size="11.4" font-weight="normal" text-anchor="middle" fill="#111" >14</text>
<text x="247.5" y="439.1" font-size="11.4" font-weight="normal" text-anchor="middle" fill="#111" >16</text>
<text x="273" y="439.1" font-size="11.4" font-weight="normal" text-anchor="middle" fill="#111" >18</text>
<text x="298.5" y="439.1" font-size="11.4" font-weight="normal" text-anchor="middle" fill="#111" >20</text>
<text x="37.1" y="411.2" font-size="11.4" font-weight="normal" text-anchor="end" fill="#111" >35</text>
<text x="37.1" y="378.1" font-size="11.4" font-weight="normal" text-anchor="end" fill="#111" >45</text>
<text x="37.1" y="345" font-size="11.4" font-weight="normal" text-anchor="end" fill="#111" >55</text>
<text x="37.1" y="311.9" font-size="11.4" font-weight="normal" text-anchor="end" fill="#111" >65</text>
<text x="37.1" y="278.8" font-size="11.4" font-weight="normal" text-anchor="end" fill="#111" >75</text>
<text x="37.1" y="245.7" font-size="11.4" font-weight="normal" text-anchor="end" fill="#111" >85</text>
<text x="170.5" y="455.6" font-size="10.85" font-weight="bold" text-anchor="middle" fill="#111"  stroke="#111" stroke-width="0.25">Time (μs)</text>
<text transform="translate(14.2 331) rotate(-90)" font-size="10.85" font-weight="bold" text-anchor="middle" fill="#111" stroke="#111" stroke-width="0.25">Frequency (GHz)</text>
<text transform="translate(0.7 241.6) scale(0.9 1)" font-size="16.2" font-weight="bold" fill="#000" stroke="#000" stroke-width="0.25">c</text>
<defs><linearGradient id="pa" x1="0" y1="1" x2="0" y2="0">
<stop offset="0" stop-color="#3e26a8"/><stop offset="0.1" stop-color="#4640e0"/><stop offset="0.2" stop-color="#4662fc"/>
<stop offset="0.3" stop-color="#2f86fa"/><stop offset="0.4" stop-color="#1ca5e0"/><stop offset="0.5" stop-color="#0bbdbd"/>
<stop offset="0.6" stop-color="#3cca8a"/><stop offset="0.7" stop-color="#9ccc42"/><stop offset="0.8" stop-color="#e8ba34"/>
<stop offset="0.9" stop-color="#fdcd2c"/><stop offset="1" stop-color="#f9fb15"/></linearGradient></defs>
<rect x="303.1" y="241.1" width="6" height="182.7" fill="url(#pa)" stroke="#222" stroke-width="1.9" stroke-linejoin="round"/>
<path d="M303.1 242.3h2M309.1 242.3h-2M303.1 262.3h2M309.1 262.3h-2M303.1 282.3h2M309.1 282.3h-2M303.1 302.3h2M309.1 302.3h-2M303.1 322.3h2M309.1 322.3h-2M303.1 342.3h2M309.1 342.3h-2M303.1 362.3h2M309.1 362.3h-2M303.1 382.3h2M309.1 382.3h-2M303.1 402.3h2M309.1 402.3h-2M303.1 422.3h2M309.1 422.3h-2" stroke="#222" stroke-width="0.9"/>
<text x="314.3" y="246.3" font-size="11.0" font-weight="normal" text-anchor="start" fill="#111" >−30</text>
<text x="314.3" y="266.3" font-size="11.0" font-weight="normal" text-anchor="start" fill="#111" >−40</text>
<text x="314.3" y="286.3" font-size="11.0" font-weight="normal" text-anchor="start" fill="#111" >−50</text>
<text x="314.3" y="306.3" font-size="11.0" font-weight="normal" text-anchor="start" fill="#111" >−60</text>
<text x="314.3" y="326.3" font-size="11.0" font-weight="normal" text-anchor="start" fill="#111" >−70</text>
<text x="314.3" y="346.3" font-size="11.0" font-weight="normal" text-anchor="start" fill="#111" >−80</text>
<text x="314.3" y="366.3" font-size="11.0" font-weight="normal" text-anchor="start" fill="#111" >−90</text>
<text x="314.3" y="386.3" font-size="11.0" font-weight="normal" text-anchor="start" fill="#111" >−100</text>
<text x="314.3" y="406.3" font-size="11.0" font-weight="normal" text-anchor="start" fill="#111" >−110</text>
<text x="314.3" y="426.3" font-size="11.0" font-weight="normal" text-anchor="start" fill="#111" >−120</text>
<path d="M419.85 421v-2.9M419.85 246.9v2.9M445.5 421v-2.9M445.5 246.9v2.9M471.15 421v-2.9M471.15 246.9v2.9M496.8 421v-2.9M496.8 246.9v2.9M522.45 421v-2.9M522.45 246.9v2.9M548.1 421v-2.9M548.1 246.9v2.9M573.75 421v-2.9M573.75 246.9v2.9M599.4 421v-2.9M599.4 246.9v2.9M625.05 421v-2.9M625.05 246.9v2.9M650.7 421v-2.9M650.7 246.9v2.9M676.35 421v-2.9M676.35 246.9v2.9M419.1 421h2.9M676.4 421h-2.9M419.1 386.18h2.9M676.4 386.18h-2.9M419.1 351.36h2.9M676.4 351.36h-2.9M419.1 316.54h2.9M676.4 316.54h-2.9M419.1 281.72h2.9M676.4 281.72h-2.9M419.1 246.9h2.9M676.4 246.9h-2.9" stroke="#222" stroke-width="2" fill="none"/>
<path d="M419.1 422V246.9" stroke="#222" stroke-width="2.1" fill="none"/>
<path d="M419.1 246.9H676.4V422.4" stroke="#000" stroke-width="2.3" fill="none" stroke-linejoin="round"/>
<path d="M676.6999999999999 247.4V422.4" stroke="#000" stroke-width="2.2" fill="none"/>
<path d="M418.90000000000003 421H675.4" stroke="#0000ff" stroke-width="2.6" stroke-linecap="round"/>
<path d="M543.4 421 L545.2 419.5 L546.2 417 L546.7 412 L546.9 405 L546.9 247.6 H549.3 L549.3 405 L549.5 412 L550 417 L551 419.5 L552.8 421Z" fill="#0000ff"/>
<text x="419.15" y="436.6" font-size="11.0" font-weight="bold" text-anchor="middle" fill="#111"  stroke="#111" stroke-width="0.25">−2.5</text>
<text x="445" y="436.6" font-size="11.0" font-weight="bold" text-anchor="middle" fill="#111"  stroke="#111" stroke-width="0.25">−2</text>
<text x="470.85" y="436.6" font-size="11.0" font-weight="bold" text-anchor="middle" fill="#111"  stroke="#111" stroke-width="0.25">−1.5</text>
<text x="496.7" y="436.6" font-size="11.0" font-weight="bold" text-anchor="middle" fill="#111"  stroke="#111" stroke-width="0.25">−1</text>
<text x="522.55" y="436.6" font-size="11.0" font-weight="bold" text-anchor="middle" fill="#111"  stroke="#111" stroke-width="0.25">−0.5</text>
<text x="548.4" y="436.6" font-size="11.0" font-weight="bold" text-anchor="middle" fill="#111"  stroke="#111" stroke-width="0.25">0</text>
<text x="574.25" y="436.6" font-size="11.0" font-weight="bold" text-anchor="middle" fill="#111"  stroke="#111" stroke-width="0.25">0.5</text>
<text x="600.1" y="436.6" font-size="11.0" font-weight="bold" text-anchor="middle" fill="#111"  stroke="#111" stroke-width="0.25">1</text>
<text x="625.95" y="436.6" font-size="11.0" font-weight="bold" text-anchor="middle" fill="#111"  stroke="#111" stroke-width="0.25">1.5</text>
<text x="651.8" y="436.6" font-size="11.0" font-weight="bold" text-anchor="middle" fill="#111"  stroke="#111" stroke-width="0.25">2</text>
<text x="677.65" y="436.6" font-size="11.0" font-weight="bold" text-anchor="middle" fill="#111"  stroke="#111" stroke-width="0.25">2.5</text>
<text x="412.9" y="424.95" font-size="11.0" font-weight="bold" text-anchor="end" fill="#111"  stroke="#111" stroke-width="0.25">0</text>
<text x="412.9" y="390.13" font-size="11.0" font-weight="bold" text-anchor="end" fill="#111"  stroke="#111" stroke-width="0.25">0.2</text>
<text x="412.9" y="355.31" font-size="11.0" font-weight="bold" text-anchor="end" fill="#111"  stroke="#111" stroke-width="0.25">0.4</text>
<text x="412.9" y="320.49" font-size="11.0" font-weight="bold" text-anchor="end" fill="#111"  stroke="#111" stroke-width="0.25">0.6</text>
<text x="412.9" y="285.67" font-size="11.0" font-weight="bold" text-anchor="end" fill="#111"  stroke="#111" stroke-width="0.25">0.8</text>
<text x="412.9" y="250.85" font-size="11.0" font-weight="bold" text-anchor="end" fill="#111"  stroke="#111" stroke-width="0.25">1</text>
<text x="547.5" y="452.6" font-size="10.85" font-weight="bold" text-anchor="middle" fill="#111"  stroke="#111" stroke-width="0.25">Time (μs)</text>
<text transform="translate(387.4 334) rotate(-90)" font-size="10.85" font-weight="bold" text-anchor="middle" fill="#111" stroke="#111" stroke-width="0.25">Amplitude (a.u.)</text>
<text transform="translate(354.5 326.5) rotate(-90)" font-size="10.85" font-weight="bold" text-anchor="middle" fill="#111" stroke="#111" stroke-width="0.25">Power/frequency (dB/Hz)</text>
<text transform="translate(375.4 241.6) scale(0.9 1)" font-size="16.2" font-weight="bold" fill="#000" stroke="#000" stroke-width="0.25">d</text>
<rect x="571.2" y="260.8" width="88.2" height="60.9" fill="#fff" stroke="#222" stroke-width="1"/>
<path d="M571.2 291.25h1.6M659.4 291.25h-1.6M615.3 260.8v1.6M615.3 321.7v-1.6" stroke="#222" stroke-width="0.9"/>
<path d="M600.6 292.2H631.4" stroke="#f25a5a" stroke-width="1"/>
<path d="M571.2 320.46 L571.38 320.53 L571.55 320.6 L571.73 320.66 L571.91 320.71 L572.08 320.76 L572.26 320.79 L572.44 320.81 L572.61 320.82 L572.79 320.81 L572.97 320.79 L573.14 320.77 L573.32 320.73 L573.5 320.67 L573.67 320.62 L573.85 320.55 L574.03 320.48 L574.2 320.4 L574.38 320.33 L574.56 320.25 L574.74 320.17 L574.91 320.1 L575.09 320.04 L575.27 319.98 L575.44 319.93 L575.62 319.89 L575.8 319.87 L575.97 319.85 L576.15 319.85 L576.33 319.86 L576.5 319.88 L576.68 319.91 L576.86 319.96 L577.03 320.01 L577.21 320.07 L577.39 320.14 L577.56 320.22 L577.74 320.29 L577.92 320.37 L578.09 320.45 L578.27 320.52 L578.45 320.59 L578.62 320.65 L578.8 320.71 L578.98 320.75 L579.15 320.78 L579.33 320.8 L579.51 320.81 L579.68 320.81 L579.86 320.8 L580.04 320.77 L580.21 320.73 L580.39 320.68 L580.57 320.62 L580.74 320.55 L580.92 320.48 L581.1 320.4 L581.27 320.32 L581.45 320.23 L581.63 320.14 L581.81 320.06 L581.98 319.97 L582.16 319.89 L582.34 319.81 L582.51 319.73 L582.69 319.66 L582.87 319.59 L583.04 319.52 L583.22 319.45 L583.4 319.38 L583.57 319.31 L583.75 319.24 L583.93 319.15 L584.1 319.06 L584.28 318.96 L584.46 318.85 L584.63 318.73 L584.81 318.6 L584.99 318.46 L585.16 318.3 L585.34 318.14 L585.52 317.96 L585.69 317.79 L585.87 317.61 L586.05 317.43 L586.22 317.26 L586.4 317.11 L586.58 316.96 L586.75 316.83 L586.93 316.72 L587.11 316.64 L587.28 316.58 L587.46 316.55 L587.64 316.55 L587.81 316.57 L587.99 316.63 L588.17 316.71 L588.35 316.81 L588.52 316.93 L588.7 317.08 L588.88 317.24 L589.05 317.41 L589.23 317.59 L589.41 317.78 L589.58 317.98 L589.76 318.18 L589.94 318.38 L590.11 318.57 L590.29 318.77 L590.47 318.96 L590.64 319.14 L590.82 319.32 L591 319.49 L591.17 319.66 L591.35 319.81 L591.53 319.96 L591.7 320.1 L591.88 320.22 L592.06 320.34 L592.23 320.44 L592.41 320.54 L592.59 320.61 L592.76 320.68 L592.94 320.73 L593.12 320.77 L593.29 320.79 L593.47 320.8 L593.65 320.79 L593.82 320.77 L594 320.74 L594.18 320.7 L594.35 320.65 L594.53 320.59 L594.71 320.52 L594.88 320.45 L595.06 320.37 L595.24 320.29 L595.42 320.22 L595.59 320.14 L595.77 320.07 L595.95 320.01 L596.12 319.96 L596.3 319.91 L596.48 319.88 L596.65 319.86 L596.83 319.85 L597.01 319.85 L597.18 319.87 L597.36 319.89 L597.54 319.93 L597.71 319.98 L597.89 320.04 L598.07 320.1 L598.24 320.17 L598.42 320.25 L598.6 320.33 L598.77 320.4 L598.95 320.48 L599.13 320.55 L599.3 320.62 L599.48 320.68 L599.66 320.73 L599.83 320.77 L600.01 320.79 L600.19 320.81 L600.36 320.82 L600.54 320.81 L600.72 320.79 L600.89 320.76 L601.07 320.71 L601.25 320.66 L601.42 320.6 L601.6 320.53 L601.78 320.46 L601.96 320.38 L602.13 320.31 L602.31 320.23 L602.49 320.16 L602.66 320.09 L602.84 320.02 L603.02 319.97 L603.19 319.92 L603.37 319.89 L603.55 319.86 L603.72 319.85 L603.9 320.81 L604.08 320.79 L604.25 320.77 L604.43 320.71 L604.61 320.62 L604.78 320.47 L604.96 320.25 L605.14 319.94 L605.31 319.54 L605.49 319.09 L605.67 318.62 L605.84 318.2 L606.02 317.91 L606.2 317.79 L606.37 317.87 L606.55 318.13 L606.73 318.53 L606.9 318.99 L607.08 319.45 L607.26 319.85 L607.43 320.16 L607.61 320.37 L607.79 320.46 L607.96 320.42 L608.14 320.22 L608.32 319.84 L608.49 319.24 L608.67 318.4 L608.85 317.33 L609.03 316.09 L609.2 314.83 L609.38 313.72 L609.56 312.95 L609.73 312.64 L609.91 312.87 L610.09 313.58 L610.26 314.64 L610.44 315.87 L610.62 317.08 L610.79 318.12 L610.97 318.91 L611.15 319.41 L611.32 319.64 L611.5 319.61 L611.68 319.34 L611.85 318.85 L612.03 318.1 L612.21 317.08 L612.38 315.74 L612.56 314.03 L612.74 311.9 L612.91 309.31 L613.09 306.23 L613.27 302.67 L613.44 298.65 L613.62 294.22 L613.8 289.48 L613.97 284.57 L614.15 279.64 L614.33 274.88 L614.5 270.5 L614.68 266.7 L614.86 263.66 L615.03 261.54 L615.21 260.8 L615.39 260.8 L615.57 261.54 L615.74 263.66 L615.92 266.7 L616.1 270.5 L616.27 274.88 L616.45 279.64 L616.63 284.57 L616.8 289.48 L616.98 294.22 L617.16 298.65 L617.33 302.67 L617.51 306.23 L617.69 309.31 L617.86 311.9 L618.04 314.03 L618.22 315.74 L618.39 317.08 L618.57 318.1 L618.75 318.85 L618.92 319.34 L619.1 319.61 L619.28 319.64 L619.45 319.41 L619.63 318.91 L619.81 318.12 L619.98 317.08 L620.16 315.87 L620.34 314.64 L620.51 313.58 L620.69 312.87 L620.87 312.64 L621.04 312.95 L621.22 313.72 L621.4 314.83 L621.57 316.09 L621.75 317.33 L621.93 318.4 L622.11 319.24 L622.28 319.84 L622.46 320.22 L622.64 320.42 L622.81 320.46 L622.99 320.37 L623.17 320.16 L623.34 319.85 L623.52 319.45 L623.7 318.99 L623.87 318.53 L624.05 318.13 L624.23 317.87 L624.4 317.79 L624.58 317.91 L624.76 318.2 L624.93 318.62 L625.11 319.09 L625.29 319.54 L625.46 319.94 L625.64 320.25 L625.82 320.47 L625.99 320.62 L626.17 320.71 L626.35 320.77 L626.52 320.79 L626.7 320.81 L626.88 320.56 L627.05 320.63 L627.23 320.69 L627.41 320.74 L627.58 320.77 L627.76 320.8 L627.94 320.81 L628.11 320.82 L628.29 320.8 L628.47 320.78 L628.64 320.75 L628.82 320.7 L629 320.65 L629.18 320.59 L629.35 320.52 L629.53 320.44 L629.71 320.37 L629.88 320.29 L630.06 320.21 L630.24 320.14 L630.41 320.07 L630.59 320.01 L630.77 319.96 L630.94 319.91 L631.12 319.88 L631.3 319.86 L631.47 319.85 L631.65 319.85 L631.83 319.87 L632 319.89 L632.18 319.93 L632.36 319.98 L632.53 320.04 L632.71 320.11 L632.89 320.18 L633.06 320.25 L633.24 320.33 L633.42 320.41 L633.59 320.48 L633.77 320.55 L633.95 320.62 L634.12 320.68 L634.3 320.73 L634.48 320.77 L634.65 320.8 L634.83 320.81 L635.01 320.82 L635.18 320.81 L635.36 320.79 L635.54 320.75 L635.72 320.71 L635.89 320.66 L636.07 320.6 L636.25 320.53 L636.42 320.45 L636.6 320.37 L636.78 320.3 L636.95 320.21 L637.13 320.14 L637.31 320.06 L637.48 319.99 L637.66 319.92 L637.84 319.87 L638.01 319.81 L638.19 319.77 L638.37 319.73 L638.54 319.7 L638.72 319.67 L638.9 319.65 L639.07 319.62 L639.25 319.6 L639.43 319.57 L639.6 319.54 L639.78 319.49 L639.96 319.44 L640.13 319.37 L640.31 319.29 L640.49 319.19 L640.66 319.07 L640.84 318.93 L641.02 318.77 L641.19 318.6 L641.37 318.41 L641.55 318.2 L641.72 317.99 L641.9 317.76 L642.08 317.54 L642.25 317.32 L642.43 317.11 L642.61 316.92 L642.79 316.74 L642.96 316.58 L643.14 316.46 L643.32 316.36 L643.49 316.29 L643.67 316.26 L643.85 316.27 L644.02 316.31 L644.2 316.39 L644.38 316.49 L644.55 316.63 L644.73 316.8 L644.91 316.98 L645.08 317.19 L645.26 317.41 L645.44 317.64 L645.61 317.88 L645.79 318.13 L645.97 318.37 L646.14 318.62 L646.32 318.85 L646.5 319.08 L646.67 319.3 L646.85 319.51 L647.03 319.7 L647.2 319.89 L647.38 320.05 L647.56 320.2 L647.73 320.33 L647.91 320.45 L648.09 320.54 L648.26 320.62 L648.44 320.68 L648.62 320.73 L648.79 320.76 L648.97 320.77 L649.15 320.76 L649.33 320.74 L649.5 320.71 L649.68 320.67 L649.86 320.61 L650.03 320.55 L650.21 320.48 L650.39 320.41 L650.56 320.33 L650.74 320.25 L650.92 320.18 L651.09 320.11 L651.27 320.04 L651.45 319.98 L651.62 319.94 L651.8 319.9 L651.98 319.87 L652.15 319.85 L652.33 319.85 L652.51 319.86 L652.68 319.88 L652.86 319.91 L653.04 319.95 L653.21 320.01 L653.39 320.07 L653.57 320.14 L653.74 320.21 L653.92 320.28 L654.1 320.36 L654.27 320.44 L654.45 320.51 L654.63 320.58 L654.8 320.65 L654.98 320.7 L655.16 320.75 L655.33 320.78 L655.51 320.8 L655.69 320.81 L655.86 320.81 L656.04 320.8 L656.22 320.77 L656.4 320.74 L656.57 320.69 L656.75 320.63 L656.93 320.57 L657.1 320.5 L657.28 320.43 L657.46 320.35 L657.63 320.27 L657.81 320.19 L657.99 320.12 L658.16 320.06 L658.34 320 L658.52 319.94 L658.69 319.9 L658.87 319.87 L659.05 319.85 L659.22 319.85 L659.4 319.85" fill="none" stroke="#0000ff" stroke-width="1.6" stroke-linejoin="round"/>
<text x="618.4" y="285.7" font-size="9.4" font-weight="bold" text-anchor="start" fill="#f01a1a"  stroke="#f01a1a" stroke-width="0.25">0.035 ns</text>
<text x="564.9" y="264" font-size="9.5" font-weight="bold" text-anchor="end" fill="#111"  stroke="#111" stroke-width="0.25">1</text>
<text x="564.9" y="294.8" font-size="9.5" font-weight="bold" text-anchor="end" fill="#111"  stroke="#111" stroke-width="0.25">0.5</text>
<text x="564.9" y="324.6" font-size="9.5" font-weight="bold" text-anchor="end" fill="#111"  stroke="#111" stroke-width="0.25">0</text>
<text x="571" y="335.4" font-size="9.5" font-weight="bold" text-anchor="middle" fill="#111"  stroke="#111" stroke-width="0.25">−0.5</text>
<text x="615.3" y="335.4" font-size="9.5" font-weight="bold" text-anchor="middle" fill="#111"  stroke="#111" stroke-width="0.25">0</text>
<text x="660" y="335.4" font-size="9.5" font-weight="bold" text-anchor="middle" fill="#111"  stroke="#111" stroke-width="0.25">0.5</text>
</svg>
</body></html>
